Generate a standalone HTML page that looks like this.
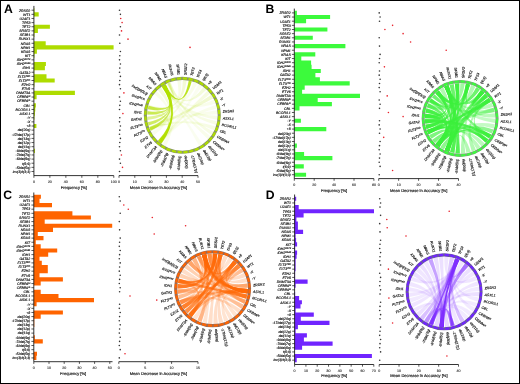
<!DOCTYPE html>
<html><head><meta charset="utf-8"><style>
html,body{margin:0;padding:0;background:#fff;}
svg{display:block;will-change:transform;}
text{font-family:"Liberation Sans",sans-serif;text-rendering:geometricPrecision;}
.ax{stroke:#111;stroke-width:0.85;fill:none;}
.tk{stroke:#111;stroke-width:0.7;fill:none;}
</style></head><body>
<svg width="520" height="384" viewBox="0 0 520 384">
<rect x="0" y="0" width="520" height="384" fill="#fff"/>
<text x="4" y="12.7" font-size="12.2" font-weight="bold" fill="#000">A</text>
<path d="M33.9 8.13h0.5v4.14h-0.5zM33.9 12.27h4.8v4.14h-4.8zM33.9 24.68h16v4.14h-16zM33.9 28.81h4v4.14h-4zM33.9 32.95h0.5v4.14h-0.5zM33.9 41.22h11.8v4.14h-11.8zM33.9 45.36h79.7v4.14h-79.7zM33.9 49.49h3v4.14h-3zM33.9 53.63h0.5v4.14h-0.5zM33.9 61.9h12v4.14h-12zM33.9 66.04h11v4.14h-11zM33.9 70.17h0.3v4.14h-0.3zM33.9 74.31h12.6v4.14h-12.6zM33.9 78.44h20.8v4.14h-20.8zM33.9 82.58h0.5v4.14h-0.5zM33.9 90.85h41v4.14h-41zM33.9 94.99h2.7v4.14h-2.7zM33.9 103.26h2v4.14h-2zM33.9 107.4h1.4v4.14h-1.4zM33.9 111.53h1v4.14h-1zM33.9 115.67h0.5v4.14h-0.5zM33.9 123.94h2.5v4.14h-2.5zM33.9 148.76h1v4.14h-1z" fill="#aedc00"/>
<path d="M33.9 5.9V175.6" class="ax"/>
<text x="30.3" y="11.5" font-size="3.45" font-style="italic" text-anchor="end" stroke="#222" stroke-width="0.17" fill="#1a1a1a">ZRSR2</text>
<text x="30.3" y="15.64" font-size="3.45" font-style="italic" text-anchor="end" stroke="#222" stroke-width="0.17" fill="#1a1a1a">WT1</text>
<text x="30.3" y="19.77" font-size="3.45" font-style="italic" text-anchor="end" stroke="#222" stroke-width="0.17" fill="#1a1a1a">U2AF1</text>
<text x="30.3" y="23.91" font-size="3.45" font-style="italic" text-anchor="end" stroke="#222" stroke-width="0.17" fill="#1a1a1a">TP53</text>
<text x="30.3" y="28.04" font-size="3.45" font-style="italic" text-anchor="end" stroke="#222" stroke-width="0.17" fill="#1a1a1a">TET2</text>
<text x="30.3" y="32.18" font-size="3.45" font-style="italic" text-anchor="end" stroke="#222" stroke-width="0.17" fill="#1a1a1a">SRSF2</text>
<text x="30.3" y="36.32" font-size="3.45" font-style="italic" text-anchor="end" stroke="#222" stroke-width="0.17" fill="#1a1a1a">SF3B1</text>
<text x="30.3" y="40.45" font-size="3.45" font-style="italic" text-anchor="end" stroke="#222" stroke-width="0.17" fill="#1a1a1a">RUNX1</text>
<text x="30.3" y="44.59" font-size="3.45" font-style="italic" text-anchor="end" stroke="#222" stroke-width="0.17" fill="#1a1a1a">NRAS</text>
<text x="30.3" y="48.72" font-size="3.45" font-style="italic" text-anchor="end" stroke="#222" stroke-width="0.17" fill="#1a1a1a">NPM1</text>
<text x="30.3" y="52.86" font-size="3.45" font-style="italic" text-anchor="end" stroke="#222" stroke-width="0.17" fill="#1a1a1a">KRAS</text>
<text x="30.3" y="57" font-size="3.45" font-style="italic" text-anchor="end" stroke="#222" stroke-width="0.17" fill="#1a1a1a">KIT</text>
<text x="30.3" y="61.13" font-size="3.45" font-style="italic" text-anchor="end" stroke="#222" stroke-width="0.17" fill="#1a1a1a">IDH2<tspan font-size="2.42" dy="-1.03">R172</tspan></text>
<text x="30.3" y="65.27" font-size="3.45" font-style="italic" text-anchor="end" stroke="#222" stroke-width="0.17" fill="#1a1a1a">IDH2<tspan font-size="2.42" dy="-1.03">R140</tspan></text>
<text x="30.3" y="69.4" font-size="3.45" font-style="italic" text-anchor="end" stroke="#222" stroke-width="0.17" fill="#1a1a1a">IDH1</text>
<text x="30.3" y="73.54" font-size="3.45" font-style="italic" text-anchor="end" stroke="#222" stroke-width="0.17" fill="#1a1a1a">GATA2</text>
<text x="30.3" y="77.68" font-size="3.45" font-style="italic" text-anchor="end" stroke="#222" stroke-width="0.17" fill="#1a1a1a">FLT3<tspan font-size="2.42" dy="-1.03">TKD</tspan></text>
<text x="30.3" y="81.81" font-size="3.45" font-style="italic" text-anchor="end" stroke="#222" stroke-width="0.17" fill="#1a1a1a">FLT3<tspan font-size="2.42" dy="-1.03">ITD</tspan></text>
<text x="30.3" y="85.95" font-size="3.45" font-style="italic" text-anchor="end" stroke="#222" stroke-width="0.17" fill="#1a1a1a">EZH2</text>
<text x="30.3" y="90.08" font-size="3.45" font-style="italic" text-anchor="end" stroke="#222" stroke-width="0.17" fill="#1a1a1a">ETV6</text>
<text x="30.3" y="94.22" font-size="3.45" font-style="italic" text-anchor="end" stroke="#222" stroke-width="0.17" fill="#1a1a1a">DNMT3A</text>
<text x="30.3" y="98.36" font-size="3.45" font-style="italic" text-anchor="end" stroke="#222" stroke-width="0.17" fill="#1a1a1a">CEBPA<tspan font-size="2.42" dy="-1.03">bi</tspan></text>
<text x="30.3" y="102.49" font-size="3.45" font-style="italic" text-anchor="end" stroke="#222" stroke-width="0.17" fill="#1a1a1a">CEBPA<tspan font-size="2.42" dy="-1.03">m</tspan></text>
<text x="30.3" y="106.63" font-size="3.45" font-style="italic" text-anchor="end" stroke="#222" stroke-width="0.17" fill="#1a1a1a">CBL</text>
<text x="30.3" y="110.76" font-size="3.45" font-style="italic" text-anchor="end" stroke="#222" stroke-width="0.17" fill="#1a1a1a">BCOR/L1</text>
<text x="30.3" y="114.9" font-size="3.45" font-style="italic" text-anchor="end" stroke="#222" stroke-width="0.17" fill="#1a1a1a">ASXL1</text>
<text x="30.3" y="119.04" font-size="3.45" font-style="italic" text-anchor="end" stroke="#222" stroke-width="0.17" fill="#1a1a1a">-Y</text>
<text x="30.3" y="123.17" font-size="3.45" font-style="italic" text-anchor="end" stroke="#222" stroke-width="0.17" fill="#1a1a1a">-X</text>
<text x="30.3" y="127.31" font-size="3.45" font-style="italic" text-anchor="end" stroke="#222" stroke-width="0.17" fill="#1a1a1a">+8</text>
<text x="30.3" y="131.44" font-size="3.45" font-style="italic" text-anchor="end" stroke="#222" stroke-width="0.17" fill="#1a1a1a">del(20q)</text>
<text x="30.3" y="135.58" font-size="3.45" font-style="italic" text-anchor="end" stroke="#222" stroke-width="0.17" fill="#1a1a1a">-17/del(17p)</text>
<text x="30.3" y="139.72" font-size="3.45" font-style="italic" text-anchor="end" stroke="#222" stroke-width="0.17" fill="#1a1a1a">del(13q)</text>
<text x="30.3" y="143.85" font-size="3.45" font-style="italic" text-anchor="end" stroke="#222" stroke-width="0.17" fill="#1a1a1a">del(12p)</text>
<text x="30.3" y="147.99" font-size="3.45" font-style="italic" text-anchor="end" stroke="#222" stroke-width="0.17" fill="#1a1a1a">del(11q)</text>
<text x="30.3" y="152.12" font-size="3.45" font-style="italic" text-anchor="end" stroke="#222" stroke-width="0.17" fill="#1a1a1a">-9/del(9q)</text>
<text x="30.3" y="156.26" font-size="3.45" font-style="italic" text-anchor="end" stroke="#222" stroke-width="0.17" fill="#1a1a1a">-7/del(7q)</text>
<text x="30.3" y="160.4" font-size="3.45" font-style="italic" text-anchor="end" stroke="#222" stroke-width="0.17" fill="#1a1a1a">-6/del(6q)</text>
<text x="30.3" y="164.53" font-size="3.45" font-style="italic" text-anchor="end" stroke="#222" stroke-width="0.17" fill="#1a1a1a">t(6;9)</text>
<text x="30.3" y="168.67" font-size="3.45" font-style="italic" text-anchor="end" stroke="#222" stroke-width="0.17" fill="#1a1a1a">-5/del(5q)</text>
<text x="30.3" y="172.8" font-size="3.45" font-style="italic" text-anchor="end" stroke="#222" stroke-width="0.17" fill="#1a1a1a">inv(3)/t(3;3)</text>
<path d="M31.5 10.2H33.9M31.5 14.34H33.9M31.5 18.47H33.9M31.5 22.61H33.9M31.5 26.74H33.9M31.5 30.88H33.9M31.5 35.02H33.9M31.5 39.15H33.9M31.5 43.29H33.9M31.5 47.42H33.9M31.5 51.56H33.9M31.5 55.7H33.9M31.5 59.83H33.9M31.5 63.97H33.9M31.5 68.1H33.9M31.5 72.24H33.9M31.5 76.38H33.9M31.5 80.51H33.9M31.5 84.65H33.9M31.5 88.78H33.9M31.5 92.92H33.9M31.5 97.06H33.9M31.5 101.19H33.9M31.5 105.33H33.9M31.5 109.46H33.9M31.5 113.6H33.9M31.5 117.74H33.9M31.5 121.87H33.9M31.5 126.01H33.9M31.5 130.14H33.9M31.5 134.28H33.9M31.5 138.42H33.9M31.5 142.55H33.9M31.5 146.69H33.9M31.5 150.82H33.9M31.5 154.96H33.9M31.5 159.1H33.9M31.5 163.23H33.9M31.5 167.37H33.9M31.5 171.5H33.9" class="tk"/>
<path d="M33.9 175.6H113.8" class="ax"/>
<text x="33.9" y="182.7" font-size="3.6" text-anchor="middle" stroke="#222" stroke-width="0.1" fill="#1a1a1a">0</text>
<text x="49.88" y="182.7" font-size="3.6" text-anchor="middle" stroke="#222" stroke-width="0.1" fill="#1a1a1a">20</text>
<text x="65.86" y="182.7" font-size="3.6" text-anchor="middle" stroke="#222" stroke-width="0.1" fill="#1a1a1a">40</text>
<text x="81.84" y="182.7" font-size="3.6" text-anchor="middle" stroke="#222" stroke-width="0.1" fill="#1a1a1a">60</text>
<text x="97.82" y="182.7" font-size="3.6" text-anchor="middle" stroke="#222" stroke-width="0.1" fill="#1a1a1a">80</text>
<text x="113.8" y="182.7" font-size="3.6" text-anchor="middle" stroke="#222" stroke-width="0.1" fill="#1a1a1a">100</text>
<path d="M33.9 175.6V177.8M49.88 175.6V177.8M65.86 175.6V177.8M81.84 175.6V177.8M97.82 175.6V177.8M113.8 175.6V177.8" class="tk"/>
<text x="73.85" y="188.5" font-size="4.05" text-anchor="middle" stroke="#222" stroke-width="0.16" fill="#1a1a1a">Frequency [%]</text>
<path d="M119 175.6H198" class="ax"/>
<text x="119" y="182.7" font-size="3.6" text-anchor="middle" stroke="#222" stroke-width="0.1" fill="#1a1a1a">0</text>
<text x="134.8" y="182.7" font-size="3.6" text-anchor="middle" stroke="#222" stroke-width="0.1" fill="#1a1a1a">10</text>
<text x="150.6" y="182.7" font-size="3.6" text-anchor="middle" stroke="#222" stroke-width="0.1" fill="#1a1a1a">20</text>
<text x="166.4" y="182.7" font-size="3.6" text-anchor="middle" stroke="#222" stroke-width="0.1" fill="#1a1a1a">30</text>
<text x="182.2" y="182.7" font-size="3.6" text-anchor="middle" stroke="#222" stroke-width="0.1" fill="#1a1a1a">40</text>
<text x="198" y="182.7" font-size="3.6" text-anchor="middle" stroke="#222" stroke-width="0.1" fill="#1a1a1a">50</text>
<path d="M119 175.6V177.8M134.8 175.6V177.8M150.6 175.6V177.8M166.4 175.6V177.8M182.2 175.6V177.8M198 175.6V177.8" class="tk"/>
<text x="158.5" y="188.5" font-size="4.05" text-anchor="middle" stroke="#222" stroke-width="0.16" fill="#1a1a1a">Mean Decrease in Accuracy [%]</text>
<g fill="#333"><circle cx="119.5" cy="10.2" r="0.8"/><circle cx="120.4" cy="14.34" r="0.8"/><circle cx="120.4" cy="26.74" r="0.8"/><circle cx="119.5" cy="35.02" r="0.8"/><circle cx="119.8" cy="43.29" r="0.8"/><circle cx="120.4" cy="51.56" r="0.8"/><circle cx="119.8" cy="55.7" r="0.8"/><circle cx="119.5" cy="59.83" r="0.8"/><circle cx="120.4" cy="63.97" r="0.8"/><circle cx="119.8" cy="68.1" r="0.8"/><circle cx="119.5" cy="72.24" r="0.8"/><circle cx="120.4" cy="76.38" r="0.8"/><circle cx="119.8" cy="80.51" r="0.8"/><circle cx="119.5" cy="84.65" r="0.8"/><circle cx="120.4" cy="88.78" r="0.8"/><circle cx="119.5" cy="97.06" r="0.8"/><circle cx="120.4" cy="101.19" r="0.8"/><circle cx="119.8" cy="105.33" r="0.8"/><circle cx="119.5" cy="109.46" r="0.8"/><circle cx="119.8" cy="117.74" r="0.8"/><circle cx="119.5" cy="121.87" r="0.8"/><circle cx="120.4" cy="126.01" r="0.8"/><circle cx="119.8" cy="130.14" r="0.8"/><circle cx="119.5" cy="134.28" r="0.8"/><circle cx="120.4" cy="138.42" r="0.8"/><circle cx="119.8" cy="142.55" r="0.8"/><circle cx="119.5" cy="146.69" r="0.8"/><circle cx="120.4" cy="150.82" r="0.8"/><circle cx="119.5" cy="159.1" r="0.8"/><circle cx="120.4" cy="163.23" r="0.8"/><circle cx="119.5" cy="171.5" r="0.8"/></g>
<g fill="#e8202a"><circle cx="120.7" cy="18.47" r="0.8"/><circle cx="122.1" cy="22.61" r="0.8"/><circle cx="121.5" cy="30.88" r="0.8"/><circle cx="128" cy="39.15" r="0.8"/><circle cx="190" cy="47.42" r="0.8"/><circle cx="123.9" cy="92.92" r="0.8"/><circle cx="122.9" cy="113.6" r="0.8"/><circle cx="121.4" cy="154.96" r="0.8"/><circle cx="122.5" cy="167.37" r="0.8"/></g>
<g><path d="M161.92 86.72A35.1 35.1 0 0 1 165.55 84.45Q182.3 115.3 161.42 143.52A35.1 35.1 0 0 1 158.14 140.76Q182.3 115.3 161.92 86.72Z" fill="#b2e000" fill-opacity="0.95"/><path d="M162.47 86.34A35.1 35.1 0 0 1 164.96 84.78Q182.3 115.3 188.76 80.8A35.1 35.1 0 0 1 191.62 81.46Q182.3 115.3 162.47 86.34Z" fill="#b2e000" fill-opacity="0.85"/><path d="M162.6 86.25A35.1 35.1 0 0 1 165.66 84.4Q182.3 115.3 150.73 130.65A35.1 35.1 0 0 1 149.33 127.35Q182.3 115.3 162.6 86.25Z" fill="#b2e000" fill-opacity="0.62"/><path d="M161.83 86.79A35.1 35.1 0 0 1 164.68 84.94Q182.3 115.3 148.69 125.43A35.1 35.1 0 0 1 147.87 122.13Q182.3 115.3 161.83 86.79Z" fill="#b2e000" fill-opacity="0.58"/><path d="M162.28 86.47A35.1 35.1 0 0 1 165.16 84.67Q182.3 115.3 147.21 114.55A35.1 35.1 0 0 1 147.45 111.16Q182.3 115.3 162.28 86.47Z" fill="#b2e000" fill-opacity="0.58"/><path d="M162.6 86.25A35.1 35.1 0 0 1 165.66 84.4Q182.3 115.3 147.74 109.16A35.1 35.1 0 0 1 148.55 105.67Q182.3 115.3 162.6 86.25Z" fill="#b2e000" fill-opacity="0.62"/><path d="M162.28 86.47A35.1 35.1 0 0 1 164.21 85.22Q182.3 115.3 167.54 83.46A35.1 35.1 0 0 1 169.65 82.56Q182.3 115.3 162.28 86.47Z" fill="#b2e000" fill-opacity="0.3"/><path d="M160.63 142.91A35.1 35.1 0 0 1 158.87 141.44Q182.3 115.3 150.46 130.06A35.1 35.1 0 0 1 149.56 127.95Q182.3 115.3 160.63 142.91Z" fill="#b2e000" fill-opacity="0.25"/><path d="M160.84 143.07A35.1 35.1 0 0 1 157.87 140.51Q182.3 115.3 147.2 114.81A35.1 35.1 0 0 1 147.48 110.9Q182.3 115.3 160.84 143.07Z" fill="#b2e000" fill-opacity="0.16"/><path d="M161.72 143.73A35.1 35.1 0 0 1 158.68 141.26Q182.3 115.3 147.71 109.33A35.1 35.1 0 0 1 148.59 105.51Q182.3 115.3 161.72 143.73Z" fill="#b2e000" fill-opacity="0.16"/><path d="M210.98 95.07A35.1 35.1 0 0 1 213.06 98.39Q182.3 115.3 150.57 130.3A35.1 35.1 0 0 1 149.09 126.67Q182.3 115.3 210.98 95.07Z" fill="#b2e000" fill-opacity="0.18"/><path d="M207.46 90.83A35.1 35.1 0 0 1 210.03 93.79Q182.3 115.3 161.27 143.41A35.1 35.1 0 0 1 158.27 140.89Q182.3 115.3 207.46 90.83Z" fill="#b2e000" fill-opacity="0.12"/><path d="M203.33 87.19A35.1 35.1 0 0 1 206.33 89.71Q182.3 115.3 166.8 83.81A35.1 35.1 0 0 1 170.41 82.28Q182.3 115.3 203.33 87.19Z" fill="#b2e000" fill-opacity="0.14"/><path d="M182.79 80.2A35.1 35.1 0 0 1 186.7 80.48Q182.3 115.3 147.81 108.78A35.1 35.1 0 0 1 148.75 104.98Q182.3 115.3 182.79 80.2Z" fill="#b2e000" fill-opacity="0.16"/><path d="M217.4 115.79A35.1 35.1 0 0 1 217.12 119.7Q182.3 115.3 162.07 86.62A35.1 35.1 0 0 1 165.39 84.54Q182.3 115.3 217.4 115.79Z" fill="#b2e000" fill-opacity="0.1"/><path d="M216.89 121.27A35.1 35.1 0 0 1 216.01 125.09Q182.3 115.3 162.42 86.37A35.1 35.1 0 0 1 165.77 84.34Q182.3 115.3 216.89 121.27Z" fill="#b2e000" fill-opacity="0.1"/><path d="M215.53 126.61A35.1 35.1 0 0 1 214.06 130.24Q182.3 115.3 151 131.18A35.1 35.1 0 0 1 149.42 127.59Q182.3 115.3 215.53 126.61Z" fill="#b2e000" fill-opacity="0.1"/><path d="M213.35 131.67A35.1 35.1 0 0 1 211.33 135.03Q182.3 115.3 167.19 83.62A35.1 35.1 0 0 1 170.81 82.13Q182.3 115.3 213.35 131.67Z" fill="#b2e000" fill-opacity="0.1"/><path d="M210.41 136.33A35.1 35.1 0 0 1 207.89 139.33Q182.3 115.3 161.72 86.87A35.1 35.1 0 0 1 165.02 84.75Q182.3 115.3 210.41 136.33Z" fill="#b2e000" fill-opacity="0.08"/><path d="M202.53 143.98A35.1 35.1 0 0 1 199.21 146.06Q182.3 115.3 162.07 86.62A35.1 35.1 0 0 1 165.39 84.54Q182.3 115.3 202.53 143.98Z" fill="#b2e000" fill-opacity="0.06"/><path d="M157.83 90.14A35.1 35.1 0 0 1 160.79 87.57Q182.3 115.3 160.84 143.07A35.1 35.1 0 0 1 157.87 140.51Q182.3 115.3 157.83 90.14Z" fill="#b2e000" fill-opacity="0.14"/><path d="M188.27 80.71A35.1 35.1 0 0 1 192.09 81.59Q182.3 115.3 150.81 130.8A35.1 35.1 0 0 1 149.28 127.19Q182.3 115.3 188.27 80.71Z" fill="#b2e000" fill-opacity="0.12"/><path d="M215.83 104.92A35.1 35.1 0 0 1 216.78 108.72Q182.3 115.3 161.62 143.66A35.1 35.1 0 0 1 158.59 141.18Q182.3 115.3 215.83 104.92Z" fill="#b2e000" fill-opacity="0.08"/><path d="M213.79 99.8A35.1 35.1 0 0 1 215.32 103.41Q182.3 115.3 162.42 86.37A35.1 35.1 0 0 1 165.77 84.34Q182.3 115.3 213.79 99.8Z" fill="#b2e000" fill-opacity="0.08"/><path d="M217.04 110.29A35.1 35.1 0 0 1 217.38 114.2Q182.3 115.3 148.77 125.68A35.1 35.1 0 0 1 147.82 121.88Q182.3 115.3 217.04 110.29Z" fill="#b2e000" fill-opacity="0.08"/><path d="M165.93 146.35A35.1 35.1 0 0 1 162.57 144.33Q182.3 115.3 161.62 86.94A35.1 35.1 0 0 1 164.91 84.81Q182.3 115.3 165.93 146.35Z" fill="#b2e000" fill-opacity="0.08"/><path d="M193.61 82.07A35.1 35.1 0 0 1 197.24 83.54Q182.3 115.3 147.22 114.26A35.1 35.1 0 0 1 147.55 110.35Q182.3 115.3 193.61 82.07Z" fill="#b2e000" fill-opacity="0.08"/><path d="M198.67 84.25A35.1 35.1 0 0 1 202.03 86.27Q182.3 115.3 161.27 143.41A35.1 35.1 0 0 1 158.27 140.89Q182.3 115.3 198.67 84.25Z" fill="#b2e000" fill-opacity="0.06"/><path d="M177.29 80.56A35.1 35.1 0 0 1 181.2 80.22Q182.3 115.3 162.07 86.62A35.1 35.1 0 0 1 165.39 84.54Q182.3 115.3 177.29 80.56Z" fill="#b2e000" fill-opacity="0.1"/><path d="M154.19 94.27A35.1 35.1 0 0 1 156.71 91.27Q182.3 115.3 160.84 143.07A35.1 35.1 0 0 1 157.87 140.51Q182.3 115.3 154.19 94.27Z" fill="#b2e000" fill-opacity="0.08"/><path d="M147.51 119.96A35.1 35.1 0 0 1 147.23 116.75Q182.3 115.3 162.81 86.11A35.1 35.1 0 0 1 165.57 84.45Q182.3 115.3 147.51 119.96Z" fill="#b2e000" fill-opacity="0.4"/><path d="M153.62 135.53A35.1 35.1 0 0 1 151.54 132.21Q182.3 115.3 161.62 86.94A35.1 35.1 0 0 1 164.91 84.81Q182.3 115.3 153.62 135.53Z" fill="#b2e000" fill-opacity="0.08"/></g>
<circle cx="182.3" cy="115.3" r="36.95" fill="none" stroke="#8a9866" stroke-width="3.1"/>
<path d="M219.25 115.75A36.95 36.95 0 0 1 218.95 120M218.72 121.53A36.95 36.95 0 0 1 217.76 125.67M217.3 127.15A36.95 36.95 0 0 1 215.71 131.09M215.02 132.48A36.95 36.95 0 0 1 212.82 136.12M211.93 137.38A36.95 36.95 0 0 1 209.19 140.64M208.11 141.74A36.95 36.95 0 0 1 204.9 144.54M203.65 145.46A36.95 36.95 0 0 1 200.04 147.71M198.67 148.43A36.95 36.95 0 0 1 194.76 150.09M193.29 150.58A36.95 36.95 0 0 1 189.16 151.61M187.63 151.86A36.95 36.95 0 0 1 183.4 152.23M181.85 152.25A36.95 36.95 0 0 1 177.6 151.95M176.07 151.72A36.95 36.95 0 0 1 171.93 150.76M170.45 150.3A36.95 36.95 0 0 1 166.51 148.71M165.12 148.02A36.95 36.95 0 0 1 161.48 145.82M160.22 144.93A36.95 36.95 0 0 1 156.96 142.19M155.86 141.11A36.95 36.95 0 0 1 153.06 137.9M152.14 136.65A36.95 36.95 0 0 1 149.89 133.04M149.17 131.67A36.95 36.95 0 0 1 147.51 127.76M147.02 126.29A36.95 36.95 0 0 1 145.99 122.16M145.74 120.63A36.95 36.95 0 0 1 145.37 116.4M145.35 114.85A36.95 36.95 0 0 1 145.65 110.6M145.88 109.07A36.95 36.95 0 0 1 146.84 104.93M147.3 103.45A36.95 36.95 0 0 1 148.89 99.51M149.58 98.12A36.95 36.95 0 0 1 151.78 94.48M152.67 93.22A36.95 36.95 0 0 1 155.41 89.96M156.49 88.86A36.95 36.95 0 0 1 159.7 86.06M160.95 85.14A36.95 36.95 0 0 1 164.56 82.89M165.93 82.17A36.95 36.95 0 0 1 169.84 80.51M171.31 80.02A36.95 36.95 0 0 1 175.44 78.99M176.97 78.74A36.95 36.95 0 0 1 181.2 78.37M182.75 78.35A36.95 36.95 0 0 1 187 78.65M188.53 78.88A36.95 36.95 0 0 1 192.67 79.84M194.15 80.3A36.95 36.95 0 0 1 198.09 81.89M199.48 82.58A36.95 36.95 0 0 1 203.12 84.78M204.38 85.67A36.95 36.95 0 0 1 207.64 88.41M208.74 89.49A36.95 36.95 0 0 1 211.54 92.7M212.46 93.95A36.95 36.95 0 0 1 214.71 97.56M215.43 98.93A36.95 36.95 0 0 1 217.09 102.84M217.58 104.31A36.95 36.95 0 0 1 218.61 108.44M218.86 109.97A36.95 36.95 0 0 1 219.23 114.2" fill="none" stroke="#aedc00" stroke-width="2.17"/>
<g><text transform="translate(222.71 119.38) rotate(4)" font-size="3.5" font-style="italic" stroke="#222" stroke-width="0.16" fill="#1a1a1a">ASXL1</text><text transform="translate(221.58 125.65) rotate(13)" font-size="3.5" font-style="italic" stroke="#222" stroke-width="0.16" fill="#1a1a1a">BCOR/L1</text><text transform="translate(219.48 131.67) rotate(22)" font-size="3.5" font-style="italic" stroke="#222" stroke-width="0.16" fill="#1a1a1a">CBL</text><text transform="translate(216.46 137.28) rotate(31)" font-size="3.5" font-style="italic" stroke="#222" stroke-width="0.16" fill="#1a1a1a">CEBPA<tspan font-size="2.45" dy="-1.05">bi</tspan></text><text transform="translate(212.6 142.35) rotate(40)" font-size="3.5" font-style="italic" stroke="#222" stroke-width="0.16" fill="#1a1a1a">CEBPA<tspan font-size="2.45" dy="-1.05">m</tspan></text><text transform="translate(207.99 146.76) rotate(49)" font-size="3.5" font-style="italic" stroke="#222" stroke-width="0.16" fill="#1a1a1a">del(11q)</text><text transform="translate(202.75 150.39) rotate(58)" font-size="3.5" font-style="italic" stroke="#222" stroke-width="0.16" fill="#1a1a1a">del(12p)</text><text transform="translate(197.01 153.16) rotate(67)" font-size="3.5" font-style="italic" stroke="#222" stroke-width="0.16" fill="#1a1a1a">del(13q)</text><text transform="translate(190.91 155) rotate(76)" font-size="3.5" font-style="italic" stroke="#222" stroke-width="0.16" fill="#1a1a1a">-17/del(17p)</text><text transform="translate(184.59 155.85) rotate(85)" font-size="3.5" font-style="italic" stroke="#222" stroke-width="0.16" fill="#1a1a1a">del(20q)</text><text transform="translate(180.71 155.89) rotate(274)" font-size="3.5" font-style="italic" text-anchor="end" stroke="#222" stroke-width="0.16" fill="#1a1a1a">-5/del(5q)</text><text transform="translate(174.38 155.14) rotate(283)" font-size="3.5" font-style="italic" text-anchor="end" stroke="#222" stroke-width="0.16" fill="#1a1a1a">-6/del(6q)</text><text transform="translate(168.25 153.41) rotate(292)" font-size="3.5" font-style="italic" text-anchor="end" stroke="#222" stroke-width="0.16" fill="#1a1a1a">-7/del(7q)</text><text transform="translate(162.46 150.74) rotate(301)" font-size="3.5" font-style="italic" text-anchor="end" stroke="#222" stroke-width="0.16" fill="#1a1a1a">-9/del(9q)</text><text transform="translate(157.16 147.2) rotate(310)" font-size="3.5" font-style="italic" text-anchor="end" stroke="#222" stroke-width="0.16" fill="#1a1a1a">DNMT3A</text><text transform="translate(152.48 142.88) rotate(319)" font-size="3.5" font-style="italic" text-anchor="end" stroke="#222" stroke-width="0.16" fill="#1a1a1a">ETV6</text><text transform="translate(148.53 137.87) rotate(328)" font-size="3.5" font-style="italic" text-anchor="end" stroke="#222" stroke-width="0.16" fill="#1a1a1a">EZH2</text><text transform="translate(145.42 132.31) rotate(337)" font-size="3.5" font-style="italic" text-anchor="end" stroke="#222" stroke-width="0.16" fill="#1a1a1a">FLT3<tspan font-size="2.45" dy="-1.05">ITD</tspan></text><text transform="translate(143.21 126.33) rotate(346)" font-size="3.5" font-style="italic" text-anchor="end" stroke="#222" stroke-width="0.16" fill="#1a1a1a">FLT3<tspan font-size="2.45" dy="-1.05">TKD</tspan></text><text transform="translate(141.96 120.08) rotate(355)" font-size="3.5" font-style="italic" text-anchor="end" stroke="#222" stroke-width="0.16" fill="#1a1a1a">GATA2</text><text transform="translate(141.71 113.71) rotate(364)" font-size="3.5" font-style="italic" text-anchor="end" stroke="#222" stroke-width="0.16" fill="#1a1a1a">IDH1</text><text transform="translate(142.46 107.38) rotate(373)" font-size="3.5" font-style="italic" text-anchor="end" stroke="#222" stroke-width="0.16" fill="#1a1a1a">IDH2<tspan font-size="2.45" dy="-1.05">R140</tspan></text><text transform="translate(144.19 101.25) rotate(382)" font-size="3.5" font-style="italic" text-anchor="end" stroke="#222" stroke-width="0.16" fill="#1a1a1a">IDH2<tspan font-size="2.45" dy="-1.05">R172</tspan></text><text transform="translate(146.86 95.46) rotate(391)" font-size="3.5" font-style="italic" text-anchor="end" stroke="#222" stroke-width="0.16" fill="#1a1a1a">inv(3)/t(3;3)</text><text transform="translate(150.4 90.16) rotate(400)" font-size="3.5" font-style="italic" text-anchor="end" stroke="#222" stroke-width="0.16" fill="#1a1a1a">KIT</text><text transform="translate(154.72 85.48) rotate(409)" font-size="3.5" font-style="italic" text-anchor="end" stroke="#222" stroke-width="0.16" fill="#1a1a1a">KRAS</text><text transform="translate(159.73 81.53) rotate(418)" font-size="3.5" font-style="italic" text-anchor="end" stroke="#222" stroke-width="0.16" fill="#1a1a1a">NPM1</text><text transform="translate(165.29 78.42) rotate(427)" font-size="3.5" font-style="italic" text-anchor="end" stroke="#222" stroke-width="0.16" fill="#1a1a1a">NRAS</text><text transform="translate(171.27 76.21) rotate(436)" font-size="3.5" font-style="italic" text-anchor="end" stroke="#222" stroke-width="0.16" fill="#1a1a1a">RUNX1</text><text transform="translate(177.52 74.96) rotate(445)" font-size="3.5" font-style="italic" text-anchor="end" stroke="#222" stroke-width="0.16" fill="#1a1a1a">SF3B1</text><text transform="translate(186.38 74.89) rotate(274)" font-size="3.5" font-style="italic" stroke="#222" stroke-width="0.16" fill="#1a1a1a">SRSF2</text><text transform="translate(192.65 76.02) rotate(283)" font-size="3.5" font-style="italic" stroke="#222" stroke-width="0.16" fill="#1a1a1a">TET2</text><text transform="translate(198.67 78.12) rotate(292)" font-size="3.5" font-style="italic" stroke="#222" stroke-width="0.16" fill="#1a1a1a">TP53</text><text transform="translate(204.28 81.14) rotate(301)" font-size="3.5" font-style="italic" stroke="#222" stroke-width="0.16" fill="#1a1a1a">t(6;9)</text><text transform="translate(209.35 85) rotate(310)" font-size="3.5" font-style="italic" stroke="#222" stroke-width="0.16" fill="#1a1a1a">+8</text><text transform="translate(213.76 89.61) rotate(319)" font-size="3.5" font-style="italic" stroke="#222" stroke-width="0.16" fill="#1a1a1a">U2AF1</text><text transform="translate(217.39 94.85) rotate(328)" font-size="3.5" font-style="italic" stroke="#222" stroke-width="0.16" fill="#1a1a1a">WT1</text><text transform="translate(220.16 100.59) rotate(337)" font-size="3.5" font-style="italic" stroke="#222" stroke-width="0.16" fill="#1a1a1a">-X</text><text transform="translate(222 106.69) rotate(346)" font-size="3.5" font-style="italic" stroke="#222" stroke-width="0.16" fill="#1a1a1a">-Y</text><text transform="translate(222.85 113.01) rotate(355)" font-size="3.5" font-style="italic" stroke="#222" stroke-width="0.16" fill="#1a1a1a">ZRSR2</text></g>
<text x="265.4" y="12.5" font-size="12.2" font-weight="bold" fill="#000">B</text>
<path d="M294.3 10.83h2.6v4.15h-2.6zM294.3 14.97h35.8v4.15h-35.8zM294.3 19.12h11.8v4.15h-11.8zM294.3 27.42h33.1v4.15h-33.1zM294.3 35.72h18.5v4.15h-18.5zM294.3 44.02h51.1v4.15h-51.1zM294.3 52.32h21v4.15h-21zM294.3 56.46h7v4.15h-7zM294.3 60.61h16.8v4.15h-16.8zM294.3 64.76h17.3v4.15h-17.3zM294.3 68.91h26.5v4.15h-26.5zM294.3 73.06h21.1v4.15h-21.1zM294.3 77.21h25.6v4.15h-25.6zM294.3 81.36h55.4v4.15h-55.4zM294.3 85.51h10.4v4.15h-10.4zM294.3 89.66h7.8v4.15h-7.8zM294.3 93.81h65.7v4.15h-65.7zM294.3 97.95h23.4v4.15h-23.4zM294.3 102.1h37.6v4.15h-37.6zM294.3 106.25h5.2v4.15h-5.2zM294.3 118.7h6.6v4.15h-6.6zM294.3 127h32v4.15h-32zM294.3 135.3h0.5v4.15h-0.5zM294.3 143.59h2.6v4.15h-2.6zM294.3 147.74h1v4.15h-1zM294.3 151.89h9.8v4.15h-9.8zM294.3 156.04h38.1v4.15h-38.1zM294.3 160.19h0.5v4.15h-0.5zM294.3 164.34h9.5v4.15h-9.5zM294.3 168.49h0.5v4.15h-0.5zM294.3 172.64h11.8v4.15h-11.8z" fill="#3cfa3c"/>
<path d="M294.3 8.6V178.6" class="ax"/>
<text x="290.7" y="14.2" font-size="3.45" font-style="italic" text-anchor="end" stroke="#222" stroke-width="0.17" fill="#1a1a1a">ZRSR2</text>
<text x="290.7" y="18.35" font-size="3.45" font-style="italic" text-anchor="end" stroke="#222" stroke-width="0.17" fill="#1a1a1a">WT1</text>
<text x="290.7" y="22.5" font-size="3.45" font-style="italic" text-anchor="end" stroke="#222" stroke-width="0.17" fill="#1a1a1a">U2AF1</text>
<text x="290.7" y="26.65" font-size="3.45" font-style="italic" text-anchor="end" stroke="#222" stroke-width="0.17" fill="#1a1a1a">TP53</text>
<text x="290.7" y="30.8" font-size="3.45" font-style="italic" text-anchor="end" stroke="#222" stroke-width="0.17" fill="#1a1a1a">TET2</text>
<text x="290.7" y="34.95" font-size="3.45" font-style="italic" text-anchor="end" stroke="#222" stroke-width="0.17" fill="#1a1a1a">SRSF2</text>
<text x="290.7" y="39.09" font-size="3.45" font-style="italic" text-anchor="end" stroke="#222" stroke-width="0.17" fill="#1a1a1a">SF3B1</text>
<text x="290.7" y="43.24" font-size="3.45" font-style="italic" text-anchor="end" stroke="#222" stroke-width="0.17" fill="#1a1a1a">RUNX1</text>
<text x="290.7" y="47.39" font-size="3.45" font-style="italic" text-anchor="end" stroke="#222" stroke-width="0.17" fill="#1a1a1a">NRAS</text>
<text x="290.7" y="51.54" font-size="3.45" font-style="italic" text-anchor="end" stroke="#222" stroke-width="0.17" fill="#1a1a1a">NPM1</text>
<text x="290.7" y="55.69" font-size="3.45" font-style="italic" text-anchor="end" stroke="#222" stroke-width="0.17" fill="#1a1a1a">KRAS</text>
<text x="290.7" y="59.84" font-size="3.45" font-style="italic" text-anchor="end" stroke="#222" stroke-width="0.17" fill="#1a1a1a">KIT</text>
<text x="290.7" y="63.99" font-size="3.45" font-style="italic" text-anchor="end" stroke="#222" stroke-width="0.17" fill="#1a1a1a">IDH2<tspan font-size="2.42" dy="-1.03">R172</tspan></text>
<text x="290.7" y="68.14" font-size="3.45" font-style="italic" text-anchor="end" stroke="#222" stroke-width="0.17" fill="#1a1a1a">IDH2<tspan font-size="2.42" dy="-1.03">R140</tspan></text>
<text x="290.7" y="72.29" font-size="3.45" font-style="italic" text-anchor="end" stroke="#222" stroke-width="0.17" fill="#1a1a1a">IDH1</text>
<text x="290.7" y="76.44" font-size="3.45" font-style="italic" text-anchor="end" stroke="#222" stroke-width="0.17" fill="#1a1a1a">GATA2</text>
<text x="290.7" y="80.58" font-size="3.45" font-style="italic" text-anchor="end" stroke="#222" stroke-width="0.17" fill="#1a1a1a">FLT3<tspan font-size="2.42" dy="-1.03">TKD</tspan></text>
<text x="290.7" y="84.73" font-size="3.45" font-style="italic" text-anchor="end" stroke="#222" stroke-width="0.17" fill="#1a1a1a">FLT3<tspan font-size="2.42" dy="-1.03">ITD</tspan></text>
<text x="290.7" y="88.88" font-size="3.45" font-style="italic" text-anchor="end" stroke="#222" stroke-width="0.17" fill="#1a1a1a">EZH2</text>
<text x="290.7" y="93.03" font-size="3.45" font-style="italic" text-anchor="end" stroke="#222" stroke-width="0.17" fill="#1a1a1a">ETV6</text>
<text x="290.7" y="97.18" font-size="3.45" font-style="italic" text-anchor="end" stroke="#222" stroke-width="0.17" fill="#1a1a1a">DNMT3A</text>
<text x="290.7" y="101.33" font-size="3.45" font-style="italic" text-anchor="end" stroke="#222" stroke-width="0.17" fill="#1a1a1a">CEBPA<tspan font-size="2.42" dy="-1.03">bi</tspan></text>
<text x="290.7" y="105.48" font-size="3.45" font-style="italic" text-anchor="end" stroke="#222" stroke-width="0.17" fill="#1a1a1a">CEBPA<tspan font-size="2.42" dy="-1.03">m</tspan></text>
<text x="290.7" y="109.63" font-size="3.45" font-style="italic" text-anchor="end" stroke="#222" stroke-width="0.17" fill="#1a1a1a">CBL</text>
<text x="290.7" y="113.78" font-size="3.45" font-style="italic" text-anchor="end" stroke="#222" stroke-width="0.17" fill="#1a1a1a">BCOR/L1</text>
<text x="290.7" y="117.92" font-size="3.45" font-style="italic" text-anchor="end" stroke="#222" stroke-width="0.17" fill="#1a1a1a">ASXL1</text>
<text x="290.7" y="122.07" font-size="3.45" font-style="italic" text-anchor="end" stroke="#222" stroke-width="0.17" fill="#1a1a1a">-Y</text>
<text x="290.7" y="126.22" font-size="3.45" font-style="italic" text-anchor="end" stroke="#222" stroke-width="0.17" fill="#1a1a1a">-X</text>
<text x="290.7" y="130.37" font-size="3.45" font-style="italic" text-anchor="end" stroke="#222" stroke-width="0.17" fill="#1a1a1a">+8</text>
<text x="290.7" y="134.52" font-size="3.45" font-style="italic" text-anchor="end" stroke="#222" stroke-width="0.17" fill="#1a1a1a">del(20q)</text>
<text x="290.7" y="138.67" font-size="3.45" font-style="italic" text-anchor="end" stroke="#222" stroke-width="0.17" fill="#1a1a1a">-17/del(17p)</text>
<text x="290.7" y="142.82" font-size="3.45" font-style="italic" text-anchor="end" stroke="#222" stroke-width="0.17" fill="#1a1a1a">del(13q)</text>
<text x="290.7" y="146.97" font-size="3.45" font-style="italic" text-anchor="end" stroke="#222" stroke-width="0.17" fill="#1a1a1a">del(12p)</text>
<text x="290.7" y="151.12" font-size="3.45" font-style="italic" text-anchor="end" stroke="#222" stroke-width="0.17" fill="#1a1a1a">del(11q)</text>
<text x="290.7" y="155.27" font-size="3.45" font-style="italic" text-anchor="end" stroke="#222" stroke-width="0.17" fill="#1a1a1a">-9/del(9q)</text>
<text x="290.7" y="159.42" font-size="3.45" font-style="italic" text-anchor="end" stroke="#222" stroke-width="0.17" fill="#1a1a1a">-7/del(7q)</text>
<text x="290.7" y="163.56" font-size="3.45" font-style="italic" text-anchor="end" stroke="#222" stroke-width="0.17" fill="#1a1a1a">-6/del(6q)</text>
<text x="290.7" y="167.71" font-size="3.45" font-style="italic" text-anchor="end" stroke="#222" stroke-width="0.17" fill="#1a1a1a">t(6;9)</text>
<text x="290.7" y="171.86" font-size="3.45" font-style="italic" text-anchor="end" stroke="#222" stroke-width="0.17" fill="#1a1a1a">-5/del(5q)</text>
<text x="290.7" y="176.01" font-size="3.45" font-style="italic" text-anchor="end" stroke="#222" stroke-width="0.17" fill="#1a1a1a">inv(3)/t(3;3)</text>
<path d="M291.9 12.9H294.3M291.9 17.05H294.3M291.9 21.2H294.3M291.9 25.35H294.3M291.9 29.5H294.3M291.9 33.65H294.3M291.9 37.79H294.3M291.9 41.94H294.3M291.9 46.09H294.3M291.9 50.24H294.3M291.9 54.39H294.3M291.9 58.54H294.3M291.9 62.69H294.3M291.9 66.84H294.3M291.9 70.99H294.3M291.9 75.14H294.3M291.9 79.28H294.3M291.9 83.43H294.3M291.9 87.58H294.3M291.9 91.73H294.3M291.9 95.88H294.3M291.9 100.03H294.3M291.9 104.18H294.3M291.9 108.33H294.3M291.9 112.48H294.3M291.9 116.62H294.3M291.9 120.77H294.3M291.9 124.92H294.3M291.9 129.07H294.3M291.9 133.22H294.3M291.9 137.37H294.3M291.9 141.52H294.3M291.9 145.67H294.3M291.9 149.82H294.3M291.9 153.97H294.3M291.9 158.12H294.3M291.9 162.26H294.3M291.9 166.41H294.3M291.9 170.56H294.3M291.9 174.71H294.3" class="tk"/>
<path d="M294.3 178.6H373.9" class="ax"/>
<text x="294.3" y="185.7" font-size="3.6" text-anchor="middle" stroke="#222" stroke-width="0.1" fill="#1a1a1a">0</text>
<text x="314.2" y="185.7" font-size="3.6" text-anchor="middle" stroke="#222" stroke-width="0.1" fill="#1a1a1a">20</text>
<text x="334.1" y="185.7" font-size="3.6" text-anchor="middle" stroke="#222" stroke-width="0.1" fill="#1a1a1a">40</text>
<text x="354" y="185.7" font-size="3.6" text-anchor="middle" stroke="#222" stroke-width="0.1" fill="#1a1a1a">60</text>
<text x="373.9" y="185.7" font-size="3.6" text-anchor="middle" stroke="#222" stroke-width="0.1" fill="#1a1a1a">80</text>
<path d="M294.3 178.6V180.8M314.2 178.6V180.8M334.1 178.6V180.8M354 178.6V180.8M373.9 178.6V180.8" class="tk"/>
<text x="334.1" y="191.5" font-size="4.05" text-anchor="middle" stroke="#222" stroke-width="0.16" fill="#1a1a1a">Frequency [%]</text>
<path d="M378.7 178.6H458.5" class="ax"/>
<text x="378.7" y="185.7" font-size="3.6" text-anchor="middle" stroke="#222" stroke-width="0.1" fill="#1a1a1a">0</text>
<text x="398.65" y="185.7" font-size="3.6" text-anchor="middle" stroke="#222" stroke-width="0.1" fill="#1a1a1a">10</text>
<text x="418.6" y="185.7" font-size="3.6" text-anchor="middle" stroke="#222" stroke-width="0.1" fill="#1a1a1a">20</text>
<text x="438.55" y="185.7" font-size="3.6" text-anchor="middle" stroke="#222" stroke-width="0.1" fill="#1a1a1a">30</text>
<text x="458.5" y="185.7" font-size="3.6" text-anchor="middle" stroke="#222" stroke-width="0.1" fill="#1a1a1a">40</text>
<path d="M378.7 178.6V180.8M398.65 178.6V180.8M418.6 178.6V180.8M438.55 178.6V180.8M458.5 178.6V180.8" class="tk"/>
<text x="418.6" y="191.5" font-size="4.05" text-anchor="middle" stroke="#222" stroke-width="0.16" fill="#1a1a1a">Mean Decrease in Accuracy [%]</text>
<g fill="#333"><circle cx="379.2" cy="12.9" r="0.8"/><circle cx="380.1" cy="17.05" r="0.8"/><circle cx="379.5" cy="21.2" r="0.8"/><circle cx="379.2" cy="37.79" r="0.8"/><circle cx="379.5" cy="46.09" r="0.8"/><circle cx="380.1" cy="54.39" r="0.8"/><circle cx="379.5" cy="58.54" r="0.8"/><circle cx="379.2" cy="62.69" r="0.8"/><circle cx="379.5" cy="70.99" r="0.8"/><circle cx="379.2" cy="75.14" r="0.8"/><circle cx="380.1" cy="79.28" r="0.8"/><circle cx="379.5" cy="83.43" r="0.8"/><circle cx="379.2" cy="87.58" r="0.8"/><circle cx="380.1" cy="91.73" r="0.8"/><circle cx="379.2" cy="100.03" r="0.8"/><circle cx="380.1" cy="104.18" r="0.8"/><circle cx="379.5" cy="108.33" r="0.8"/><circle cx="379.5" cy="120.77" r="0.8"/><circle cx="379.2" cy="124.92" r="0.8"/><circle cx="380.1" cy="129.07" r="0.8"/><circle cx="379.5" cy="133.22" r="0.8"/><circle cx="380.1" cy="141.52" r="0.8"/><circle cx="379.5" cy="145.67" r="0.8"/><circle cx="379.2" cy="149.82" r="0.8"/><circle cx="380.1" cy="153.97" r="0.8"/><circle cx="379.5" cy="158.12" r="0.8"/><circle cx="379.2" cy="162.26" r="0.8"/><circle cx="380.1" cy="166.41" r="0.8"/><circle cx="379.2" cy="174.71" r="0.8"/></g>
<g fill="#e8202a"><circle cx="392.6" cy="25.35" r="0.8"/><circle cx="384.9" cy="29.5" r="0.8"/><circle cx="403.1" cy="33.65" r="0.8"/><circle cx="410.6" cy="41.94" r="0.8"/><circle cx="446.2" cy="50.24" r="0.8"/><circle cx="384.4" cy="66.84" r="0.8"/><circle cx="387.2" cy="95.88" r="0.8"/><circle cx="388.4" cy="112.48" r="0.8"/><circle cx="403.1" cy="116.62" r="0.8"/><circle cx="383.7" cy="137.37" r="0.8"/><circle cx="392.6" cy="170.56" r="0.8"/></g>
<g><path d="M439.27 146.65A35.1 35.1 0 0 1 435.89 143.82Q460.1 118.4 428.72 134.12A35.1 35.1 0 0 1 426.99 130.06Q460.1 118.4 439.27 146.65Z" fill="#3cf03c" fill-opacity="0.85"/><path d="M439.27 146.65A35.1 35.1 0 0 1 435.89 143.82Q460.1 118.4 444.38 87.02A35.1 35.1 0 0 1 448.44 85.29Q460.1 118.4 439.27 146.65Z" fill="#3cf03c" fill-opacity="0.84"/><path d="M439.22 146.62A35.1 35.1 0 0 1 435.85 143.78Q460.1 118.4 425 118.15A35.1 35.1 0 0 1 425.31 113.76Q460.1 118.4 439.22 146.62Z" fill="#3cf03c" fill-opacity="0.84"/><path d="M439.32 146.69A35.1 35.1 0 0 1 436.21 144.11Q460.1 118.4 425.5 112.49A35.1 35.1 0 0 1 426.41 108.55Q460.1 118.4 439.32 146.69Z" fill="#3cf03c" fill-opacity="0.75"/><path d="M439.12 146.54A35.1 35.1 0 0 1 436.03 143.94Q460.1 118.4 466.01 83.8A35.1 35.1 0 0 1 469.95 84.71Q460.1 118.4 439.12 146.54Z" fill="#3cf03c" fill-opacity="0.75"/><path d="M438.64 146.17A35.1 35.1 0 0 1 435.85 143.78Q460.1 118.4 488.85 98.27A35.1 35.1 0 0 1 490.8 101.38Q460.1 118.4 438.64 146.17Z" fill="#3cf03c" fill-opacity="0.66"/><path d="M439.32 146.69A35.1 35.1 0 0 1 436.48 144.36Q460.1 118.4 488.13 139.52A35.1 35.1 0 0 1 485.77 142.34Q460.1 118.4 439.32 146.69Z" fill="#3cf03c" fill-opacity="0.57"/><path d="M438.98 146.43A35.1 35.1 0 0 1 436.16 144.07Q460.1 118.4 481.22 90.37A35.1 35.1 0 0 1 484.04 92.73Q460.1 118.4 438.98 146.43Z" fill="#3cf03c" fill-opacity="0.66"/><path d="M428.72 134.12A35.1 35.1 0 0 1 426.99 130.06Q460.1 118.4 488.64 97.97A35.1 35.1 0 0 1 490.98 101.71Q460.1 118.4 428.72 134.12Z" fill="#3cf03c" fill-opacity="0.84"/><path d="M428.37 133.4A35.1 35.1 0 0 1 426.97 130Q460.1 118.4 488.13 139.52A35.1 35.1 0 0 1 485.77 142.34Q460.1 118.4 428.37 133.4Z" fill="#3cf03c" fill-opacity="0.66"/><path d="M428.74 134.17A35.1 35.1 0 0 1 427.27 130.81Q460.1 118.4 425.34 123.28A35.1 35.1 0 0 1 425.02 119.62Q460.1 118.4 428.74 134.17Z" fill="#3cf03c" fill-opacity="0.57"/><path d="M428.55 133.79A35.1 35.1 0 0 1 427.12 130.4Q460.1 118.4 444.71 86.85A35.1 35.1 0 0 1 448.1 85.42Q460.1 118.4 428.55 133.79Z" fill="#3cf03c" fill-opacity="0.66"/><path d="M444.44 86.99A35.1 35.1 0 0 1 448.5 85.27Q460.1 118.4 449.02 151.71A35.1 35.1 0 0 1 444.93 150.05Q460.1 118.4 444.44 86.99Z" fill="#3cf03c" fill-opacity="0.75"/><path d="M444.33 87.04A35.1 35.1 0 0 1 447.69 85.57Q460.1 118.4 481.22 90.37A35.1 35.1 0 0 1 484.04 92.73Q460.1 118.4 444.33 87.04Z" fill="#3cf03c" fill-opacity="0.66"/><path d="M444.38 87.02A35.1 35.1 0 0 1 448.44 85.29Q460.1 118.4 459.85 153.5A35.1 35.1 0 0 1 455.46 153.19Q460.1 118.4 444.38 87.02Z" fill="#3cf03c" fill-opacity="0.8"/><path d="M445.1 86.67A35.1 35.1 0 0 1 448.5 85.27Q460.1 118.4 425.34 123.28A35.1 35.1 0 0 1 425.02 119.62Q460.1 118.4 445.1 86.67Z" fill="#3cf03c" fill-opacity="0.66"/><path d="M444.33 87.04A35.1 35.1 0 0 1 447.69 85.57Q460.1 118.4 491.09 134.88A35.1 35.1 0 0 1 489.2 138.03Q460.1 118.4 444.33 87.04Z" fill="#3cf03c" fill-opacity="0.57"/><path d="M444.71 86.85A35.1 35.1 0 0 1 448.1 85.42Q460.1 118.4 429.11 101.92A35.1 35.1 0 0 1 431 98.77Q460.1 118.4 444.71 86.85Z" fill="#3cf03c" fill-opacity="0.66"/><path d="M466.2 83.83A35.1 35.1 0 0 1 469.77 84.66Q460.1 118.4 481.56 90.63A35.1 35.1 0 0 1 484.35 93.02Q460.1 118.4 466.2 83.83Z" fill="#3cf03c" fill-opacity="0.75"/><path d="M466.62 83.91A35.1 35.1 0 0 1 470.19 84.78Q460.1 118.4 426.53 128.66A35.1 35.1 0 0 1 425.64 125.1Q460.1 118.4 466.62 83.91Z" fill="#3cf03c" fill-opacity="0.66"/><path d="M465.77 83.76A35.1 35.1 0 0 1 469.36 84.54Q460.1 118.4 435.72 93.15A35.1 35.1 0 0 1 438.49 90.74Q460.1 118.4 465.77 83.76Z" fill="#3cf03c" fill-opacity="0.66"/><path d="M466.2 83.83A35.1 35.1 0 0 1 469.77 84.66Q460.1 118.4 448.67 151.59A35.1 35.1 0 0 1 445.27 150.21Q460.1 118.4 466.2 83.83Z" fill="#3cf03c" fill-opacity="0.57"/><path d="M489.1 98.62A35.1 35.1 0 0 1 491 101.76Q460.1 118.4 487.87 139.86A35.1 35.1 0 0 1 485.48 142.65Q460.1 118.4 489.1 98.62Z" fill="#3cf03c" fill-opacity="0.48"/><path d="M488.6 97.92A35.1 35.1 0 0 1 490.59 101.01Q460.1 118.4 448.27 151.45A35.1 35.1 0 0 1 444.88 150.03Q460.1 118.4 488.6 97.92Z" fill="#3cf03c" fill-opacity="0.66"/><path d="M485.09 93.75A35.1 35.1 0 0 1 487.98 97.08Q460.1 118.4 480.88 90.11A35.1 35.1 0 0 1 484.26 92.94Q460.1 118.4 485.09 93.75Z" fill="#3cf03c" fill-opacity="0.75"/><path d="M485.09 93.75A35.1 35.1 0 0 1 487.98 97.08Q460.1 118.4 449.08 151.72A35.1 35.1 0 0 1 444.99 150.08Q460.1 118.4 485.09 93.75Z" fill="#3cf03c" fill-opacity="0.75"/><path d="M454.85 83.69A35.1 35.1 0 0 1 459.24 83.31Q460.1 118.4 439.22 146.62A35.1 35.1 0 0 1 435.85 143.78Q460.1 118.4 454.85 83.69Z" fill="#3cf03c" fill-opacity="0.84"/><path d="M454.85 83.69A35.1 35.1 0 0 1 459.24 83.31Q460.1 118.4 454.37 153.03A35.1 35.1 0 0 1 450.07 152.04Q460.1 118.4 454.85 83.69Z" fill="#3cf03c" fill-opacity="0.8"/><path d="M435.45 93.41A35.1 35.1 0 0 1 438.78 90.52Q460.1 118.4 449.02 151.71A35.1 35.1 0 0 1 444.93 150.05Q460.1 118.4 435.45 93.41Z" fill="#3cf03c" fill-opacity="0.75"/><path d="M435.5 93.36A35.1 35.1 0 0 1 438.83 90.48Q460.1 118.4 425 118.15A35.1 35.1 0 0 1 425.31 113.76Q460.1 118.4 435.5 93.36Z" fill="#3cf03c" fill-opacity="0.75"/><path d="M425 118.09A35.1 35.1 0 0 1 425.32 113.7Q460.1 118.4 426.64 129.01A35.1 35.1 0 0 1 425.58 124.74Q460.1 118.4 425 118.09Z" fill="#3cf03c" fill-opacity="0.75"/><path d="M426.79 107.32A35.1 35.1 0 0 1 428.45 103.23Q460.1 118.4 439.32 146.69A35.1 35.1 0 0 1 435.94 143.86Q460.1 118.4 426.79 107.32Z" fill="#3cf03c" fill-opacity="0.75"/><path d="M425.47 112.67A35.1 35.1 0 0 1 426.46 108.37Q460.1 118.4 426.62 128.95A35.1 35.1 0 0 1 425.57 124.68Q460.1 118.4 425.47 112.67Z" fill="#3cf03c" fill-opacity="0.75"/><path d="M425.39 123.59A35.1 35.1 0 0 1 425.01 119.2Q460.1 118.4 491.26 134.55A35.1 35.1 0 0 1 488.99 138.33Q460.1 118.4 425.39 123.59Z" fill="#3cf03c" fill-opacity="0.84"/><path d="M490.89 135.26A35.1 35.1 0 0 1 488.96 138.38Q460.1 118.4 488.39 139.18A35.1 35.1 0 0 1 486.06 142.02Q460.1 118.4 490.89 135.26Z" fill="#3cf03c" fill-opacity="0.39"/><path d="M431.56 138.83A35.1 35.1 0 0 1 429.22 135.09Q460.1 118.4 448.96 151.69A35.1 35.1 0 0 1 444.88 150.03Q460.1 118.4 431.56 138.83Z" fill="#3cf03c" fill-opacity="0.66"/><path d="M435.11 143.05A35.1 35.1 0 0 1 432.22 139.72Q460.1 118.4 449.08 151.72A35.1 35.1 0 0 1 444.99 150.08Q460.1 118.4 435.11 143.05Z" fill="#3cf03c" fill-opacity="0.66"/><path d="M481.22 90.37A35.1 35.1 0 0 1 484.04 92.73Q460.1 118.4 448.67 151.59A35.1 35.1 0 0 1 445.27 150.21Q460.1 118.4 481.22 90.37Z" fill="#3cf03c" fill-opacity="0.48"/><path d="M476.25 87.24A35.1 35.1 0 0 1 480.03 89.51Q460.1 118.4 435.41 93.45A35.1 35.1 0 0 1 438.73 90.55Q460.1 118.4 476.25 87.24Z" fill="#3cf03c" fill-opacity="0.75"/><path d="M428.94 102.25A35.1 35.1 0 0 1 431.21 98.47Q460.1 118.4 448.96 151.69A35.1 35.1 0 0 1 444.88 150.03Q460.1 118.4 428.94 102.25Z" fill="#3cf03c" fill-opacity="0.66"/><path d="M443.95 149.56A35.1 35.1 0 0 1 440.17 147.29Q460.1 118.4 491.29 134.5A35.1 35.1 0 0 1 489.03 138.28Q460.1 118.4 443.95 149.56Z" fill="#3cf03c" fill-opacity="0.57"/><path d="M493.41 129.48A35.1 35.1 0 0 1 491.75 133.57Q460.1 118.4 439.27 146.65A35.1 35.1 0 0 1 435.89 143.82Q460.1 118.4 493.41 129.48Z" fill="#3cf03c" fill-opacity="0.57"/><path d="M493.56 107.79A35.1 35.1 0 0 1 494.62 112.06Q460.1 118.4 428.69 134.06A35.1 35.1 0 0 1 426.97 130Q460.1 118.4 493.56 107.79Z" fill="#3cf03c" fill-opacity="0.43"/><path d="M431.85 97.57A35.1 35.1 0 0 1 434.68 94.19Q460.1 118.4 493.56 107.79A35.1 35.1 0 0 1 494.62 112.06Q460.1 118.4 431.85 97.57Z" fill="#3cf03c" fill-opacity="0.39"/><path d="M494.81 113.15A35.1 35.1 0 0 1 495.19 117.54Q460.1 118.4 485.14 93.8A35.1 35.1 0 0 1 488.02 97.13Q460.1 118.4 494.81 113.15Z" fill="#3cf03c" fill-opacity="0.34"/><path d="M491.48 102.68A35.1 35.1 0 0 1 493.21 106.74Q460.1 118.4 444.44 86.99A35.1 35.1 0 0 1 448.5 85.27Q460.1 118.4 491.48 102.68Z" fill="#3cf03c" fill-opacity="0.34"/><path d="M495.2 118.65A35.1 35.1 0 0 1 494.89 123.04Q460.1 118.4 444.33 87.04A35.1 35.1 0 0 1 448.38 85.31Q460.1 118.4 495.2 118.65Z" fill="#3cf03c" fill-opacity="0.3"/><path d="M494.73 124.13A35.1 35.1 0 0 1 493.74 128.43Q460.1 118.4 439.22 146.62A35.1 35.1 0 0 1 435.85 143.78Q460.1 118.4 494.73 124.13Z" fill="#3cf03c" fill-opacity="0.3"/><path d="M480.53 146.94A35.1 35.1 0 0 1 476.79 149.28Q460.1 118.4 428.74 134.17A35.1 35.1 0 0 1 427.01 130.12Q460.1 118.4 480.53 146.94Z" fill="#3cf03c" fill-opacity="0.34"/><path d="M475.82 149.78A35.1 35.1 0 0 1 471.76 151.51Q460.1 118.4 488.64 97.97A35.1 35.1 0 0 1 490.98 101.71Q460.1 118.4 475.82 149.78Z" fill="#3cf03c" fill-opacity="0.39"/><path d="M484.75 143.39A35.1 35.1 0 0 1 481.42 146.28Q460.1 118.4 439.32 146.69A35.1 35.1 0 0 1 435.94 143.86Q460.1 118.4 484.75 143.39Z" fill="#3cf03c" fill-opacity="0.34"/><path d="M470.71 151.86A35.1 35.1 0 0 1 466.44 152.92Q460.1 118.4 449.08 151.72A35.1 35.1 0 0 1 444.99 150.08Q460.1 118.4 470.71 151.86Z" fill="#3cf03c" fill-opacity="0.39"/><path d="M465.35 153.11A35.1 35.1 0 0 1 460.96 153.49Q460.1 118.4 480.98 90.18A35.1 35.1 0 0 1 484.35 93.02Q460.1 118.4 465.35 153.11Z" fill="#3cf03c" fill-opacity="0.39"/><path d="M454.37 153.03A35.1 35.1 0 0 1 450.07 152.04Q460.1 118.4 444.38 87.02A35.1 35.1 0 0 1 448.44 85.29Q460.1 118.4 454.37 153.03Z" fill="#3cf03c" fill-opacity="0.39"/><path d="M459.85 153.5A35.1 35.1 0 0 1 455.46 153.19Q460.1 118.4 439.27 146.65A35.1 35.1 0 0 1 435.89 143.82Q460.1 118.4 459.85 153.5Z" fill="#3cf03c" fill-opacity="0.39"/><path d="M471.18 85.09A35.1 35.1 0 0 1 475.27 86.75Q460.1 118.4 449.02 151.71A35.1 35.1 0 0 1 444.93 150.05Q460.1 118.4 471.18 85.09Z" fill="#3cf03c" fill-opacity="0.39"/><path d="M439.67 89.86A35.1 35.1 0 0 1 443.41 87.52Q460.1 118.4 428.72 134.12A35.1 35.1 0 0 1 426.99 130.06Q460.1 118.4 439.67 89.86Z" fill="#3cf03c" fill-opacity="0.39"/><path d="M449.49 84.94A35.1 35.1 0 0 1 453.76 83.88Q460.1 118.4 448.96 151.69A35.1 35.1 0 0 1 444.88 150.03Q460.1 118.4 449.49 84.94Z" fill="#3cf03c" fill-opacity="0.75"/><path d="M460.35 83.3A35.1 35.1 0 0 1 464.74 83.61Q460.1 118.4 426.79 107.32A35.1 35.1 0 0 1 428.45 103.23Q460.1 118.4 460.35 83.3Z" fill="#3cf03c" fill-opacity="0.48"/><path d="M488.35 139.23A35.1 35.1 0 0 1 485.52 142.61Q460.1 118.4 425.4 123.71A35.1 35.1 0 0 1 425.01 119.32Q460.1 118.4 488.35 139.23Z" fill="#3cf03c" fill-opacity="0.57"/><path d="M432.07 97.28A35.1 35.1 0 0 1 434.43 94.46Q460.1 118.4 429.31 101.54A35.1 35.1 0 0 1 431.24 98.42Q460.1 118.4 432.07 97.28Z" fill="#3cf03c" fill-opacity="0.57"/></g>
<circle cx="460.1" cy="118.4" r="36.95" fill="none" stroke="#7aa87a" stroke-width="3.1"/>
<path d="M497.05 118.85A36.95 36.95 0 0 1 496.75 123.1M496.52 124.63A36.95 36.95 0 0 1 495.56 128.77M495.1 130.25A36.95 36.95 0 0 1 493.51 134.19M492.82 135.58A36.95 36.95 0 0 1 490.62 139.22M489.73 140.48A36.95 36.95 0 0 1 486.99 143.74M485.91 144.84A36.95 36.95 0 0 1 482.7 147.64M481.45 148.56A36.95 36.95 0 0 1 477.84 150.81M476.47 151.53A36.95 36.95 0 0 1 472.56 153.19M471.09 153.68A36.95 36.95 0 0 1 466.96 154.71M465.43 154.96A36.95 36.95 0 0 1 461.2 155.33M459.65 155.35A36.95 36.95 0 0 1 455.4 155.05M453.87 154.82A36.95 36.95 0 0 1 449.73 153.86M448.25 153.4A36.95 36.95 0 0 1 444.31 151.81M442.92 151.12A36.95 36.95 0 0 1 439.28 148.92M438.02 148.03A36.95 36.95 0 0 1 434.76 145.29M433.66 144.21A36.95 36.95 0 0 1 430.86 141M429.94 139.75A36.95 36.95 0 0 1 427.69 136.14M426.97 134.77A36.95 36.95 0 0 1 425.31 130.86M424.82 129.39A36.95 36.95 0 0 1 423.79 125.26M423.54 123.73A36.95 36.95 0 0 1 423.17 119.5M423.15 117.95A36.95 36.95 0 0 1 423.45 113.7M423.68 112.17A36.95 36.95 0 0 1 424.64 108.03M425.1 106.55A36.95 36.95 0 0 1 426.69 102.61M427.38 101.22A36.95 36.95 0 0 1 429.58 97.58M430.47 96.32A36.95 36.95 0 0 1 433.21 93.06M434.29 91.96A36.95 36.95 0 0 1 437.5 89.16M438.75 88.24A36.95 36.95 0 0 1 442.36 85.99M443.73 85.27A36.95 36.95 0 0 1 447.64 83.61M449.11 83.12A36.95 36.95 0 0 1 453.24 82.09M454.77 81.84A36.95 36.95 0 0 1 459 81.47M460.55 81.45A36.95 36.95 0 0 1 464.8 81.75M466.33 81.98A36.95 36.95 0 0 1 470.47 82.94M471.95 83.4A36.95 36.95 0 0 1 475.89 84.99M477.28 85.68A36.95 36.95 0 0 1 480.92 87.88M482.18 88.77A36.95 36.95 0 0 1 485.44 91.51M486.54 92.59A36.95 36.95 0 0 1 489.34 95.8M490.26 97.05A36.95 36.95 0 0 1 492.51 100.66M493.23 102.03A36.95 36.95 0 0 1 494.89 105.94M495.38 107.41A36.95 36.95 0 0 1 496.41 111.54M496.66 113.07A36.95 36.95 0 0 1 497.03 117.3" fill="none" stroke="#3cfa3c" stroke-width="2.17"/>
<g><text transform="translate(500.51 122.48) rotate(4)" font-size="3.5" font-style="italic" stroke="#222" stroke-width="0.16" fill="#1a1a1a">ASXL1</text><text transform="translate(499.38 128.75) rotate(13)" font-size="3.5" font-style="italic" stroke="#222" stroke-width="0.16" fill="#1a1a1a">BCOR/L1</text><text transform="translate(497.28 134.77) rotate(22)" font-size="3.5" font-style="italic" stroke="#222" stroke-width="0.16" fill="#1a1a1a">CBL</text><text transform="translate(494.26 140.38) rotate(31)" font-size="3.5" font-style="italic" stroke="#222" stroke-width="0.16" fill="#1a1a1a">CEBPA<tspan font-size="2.45" dy="-1.05">bi</tspan></text><text transform="translate(490.4 145.45) rotate(40)" font-size="3.5" font-style="italic" stroke="#222" stroke-width="0.16" fill="#1a1a1a">CEBPA<tspan font-size="2.45" dy="-1.05">m</tspan></text><text transform="translate(485.79 149.86) rotate(49)" font-size="3.5" font-style="italic" stroke="#222" stroke-width="0.16" fill="#1a1a1a">del(11q)</text><text transform="translate(480.55 153.49) rotate(58)" font-size="3.5" font-style="italic" stroke="#222" stroke-width="0.16" fill="#1a1a1a">del(12p)</text><text transform="translate(474.81 156.26) rotate(67)" font-size="3.5" font-style="italic" stroke="#222" stroke-width="0.16" fill="#1a1a1a">del(13q)</text><text transform="translate(468.71 158.1) rotate(76)" font-size="3.5" font-style="italic" stroke="#222" stroke-width="0.16" fill="#1a1a1a">-17/del(17p)</text><text transform="translate(462.39 158.95) rotate(85)" font-size="3.5" font-style="italic" stroke="#222" stroke-width="0.16" fill="#1a1a1a">del(20q)</text><text transform="translate(458.51 158.99) rotate(274)" font-size="3.5" font-style="italic" text-anchor="end" stroke="#222" stroke-width="0.16" fill="#1a1a1a">-5/del(5q)</text><text transform="translate(452.18 158.24) rotate(283)" font-size="3.5" font-style="italic" text-anchor="end" stroke="#222" stroke-width="0.16" fill="#1a1a1a">-6/del(6q)</text><text transform="translate(446.05 156.51) rotate(292)" font-size="3.5" font-style="italic" text-anchor="end" stroke="#222" stroke-width="0.16" fill="#1a1a1a">-7/del(7q)</text><text transform="translate(440.26 153.84) rotate(301)" font-size="3.5" font-style="italic" text-anchor="end" stroke="#222" stroke-width="0.16" fill="#1a1a1a">-9/del(9q)</text><text transform="translate(434.96 150.3) rotate(310)" font-size="3.5" font-style="italic" text-anchor="end" stroke="#222" stroke-width="0.16" fill="#1a1a1a">DNMT3A</text><text transform="translate(430.28 145.98) rotate(319)" font-size="3.5" font-style="italic" text-anchor="end" stroke="#222" stroke-width="0.16" fill="#1a1a1a">ETV6</text><text transform="translate(426.33 140.97) rotate(328)" font-size="3.5" font-style="italic" text-anchor="end" stroke="#222" stroke-width="0.16" fill="#1a1a1a">EZH2</text><text transform="translate(423.22 135.41) rotate(337)" font-size="3.5" font-style="italic" text-anchor="end" stroke="#222" stroke-width="0.16" fill="#1a1a1a">FLT3<tspan font-size="2.45" dy="-1.05">ITD</tspan></text><text transform="translate(421.01 129.43) rotate(346)" font-size="3.5" font-style="italic" text-anchor="end" stroke="#222" stroke-width="0.16" fill="#1a1a1a">FLT3<tspan font-size="2.45" dy="-1.05">TKD</tspan></text><text transform="translate(419.76 123.18) rotate(355)" font-size="3.5" font-style="italic" text-anchor="end" stroke="#222" stroke-width="0.16" fill="#1a1a1a">GATA2</text><text transform="translate(419.51 116.81) rotate(364)" font-size="3.5" font-style="italic" text-anchor="end" stroke="#222" stroke-width="0.16" fill="#1a1a1a">IDH1</text><text transform="translate(420.26 110.48) rotate(373)" font-size="3.5" font-style="italic" text-anchor="end" stroke="#222" stroke-width="0.16" fill="#1a1a1a">IDH2<tspan font-size="2.45" dy="-1.05">R140</tspan></text><text transform="translate(421.99 104.35) rotate(382)" font-size="3.5" font-style="italic" text-anchor="end" stroke="#222" stroke-width="0.16" fill="#1a1a1a">IDH2<tspan font-size="2.45" dy="-1.05">R172</tspan></text><text transform="translate(424.66 98.56) rotate(391)" font-size="3.5" font-style="italic" text-anchor="end" stroke="#222" stroke-width="0.16" fill="#1a1a1a">inv(3)/t(3;3)</text><text transform="translate(428.2 93.26) rotate(400)" font-size="3.5" font-style="italic" text-anchor="end" stroke="#222" stroke-width="0.16" fill="#1a1a1a">KIT</text><text transform="translate(432.52 88.58) rotate(409)" font-size="3.5" font-style="italic" text-anchor="end" stroke="#222" stroke-width="0.16" fill="#1a1a1a">KRAS</text><text transform="translate(437.53 84.63) rotate(418)" font-size="3.5" font-style="italic" text-anchor="end" stroke="#222" stroke-width="0.16" fill="#1a1a1a">NPM1</text><text transform="translate(443.09 81.52) rotate(427)" font-size="3.5" font-style="italic" text-anchor="end" stroke="#222" stroke-width="0.16" fill="#1a1a1a">NRAS</text><text transform="translate(449.07 79.31) rotate(436)" font-size="3.5" font-style="italic" text-anchor="end" stroke="#222" stroke-width="0.16" fill="#1a1a1a">RUNX1</text><text transform="translate(455.32 78.06) rotate(445)" font-size="3.5" font-style="italic" text-anchor="end" stroke="#222" stroke-width="0.16" fill="#1a1a1a">SF3B1</text><text transform="translate(464.18 77.99) rotate(274)" font-size="3.5" font-style="italic" stroke="#222" stroke-width="0.16" fill="#1a1a1a">SRSF2</text><text transform="translate(470.45 79.12) rotate(283)" font-size="3.5" font-style="italic" stroke="#222" stroke-width="0.16" fill="#1a1a1a">TET2</text><text transform="translate(476.47 81.22) rotate(292)" font-size="3.5" font-style="italic" stroke="#222" stroke-width="0.16" fill="#1a1a1a">TP53</text><text transform="translate(482.08 84.24) rotate(301)" font-size="3.5" font-style="italic" stroke="#222" stroke-width="0.16" fill="#1a1a1a">t(6;9)</text><text transform="translate(487.15 88.1) rotate(310)" font-size="3.5" font-style="italic" stroke="#222" stroke-width="0.16" fill="#1a1a1a">+8</text><text transform="translate(491.56 92.71) rotate(319)" font-size="3.5" font-style="italic" stroke="#222" stroke-width="0.16" fill="#1a1a1a">U2AF1</text><text transform="translate(495.19 97.95) rotate(328)" font-size="3.5" font-style="italic" stroke="#222" stroke-width="0.16" fill="#1a1a1a">WT1</text><text transform="translate(497.96 103.69) rotate(337)" font-size="3.5" font-style="italic" stroke="#222" stroke-width="0.16" fill="#1a1a1a">-X</text><text transform="translate(499.8 109.79) rotate(346)" font-size="3.5" font-style="italic" stroke="#222" stroke-width="0.16" fill="#1a1a1a">-Y</text><text transform="translate(500.65 116.11) rotate(355)" font-size="3.5" font-style="italic" stroke="#222" stroke-width="0.16" fill="#1a1a1a">ZRSR2</text></g>
<text x="3.2" y="198.7" font-size="12.2" font-weight="bold" fill="#000">C</text>
<path d="M33.8 194.73h7.1v4.13h-7.1zM33.8 198.87h5.7v4.13h-5.7zM33.8 203h18.2v4.13h-18.2zM33.8 211.26h38.6v4.13h-38.6zM33.8 215.39h57.1v4.13h-57.1zM33.8 219.52h10.9v4.13h-10.9zM33.8 223.65h78.4v4.13h-78.4zM33.8 227.78h19.2v4.13h-19.2zM33.8 231.91h4v4.13h-4zM33.8 236.04h9.7v4.13h-9.7zM33.8 240.18h2v4.13h-2zM33.8 244.31h6.9v4.13h-6.9zM33.8 248.44h23.4v4.13h-23.4zM33.8 252.57h14.4v4.13h-14.4zM33.8 256.7h5.7v4.13h-5.7zM33.8 260.83h8v4.13h-8zM33.8 264.96h14v4.13h-14zM33.8 269.09h14v4.13h-14zM33.8 273.22h5.7v4.13h-5.7zM33.8 277.35h29.1v4.13h-29.1zM33.8 281.49h6.9v4.13h-6.9zM33.8 289.75h6.9v4.13h-6.9zM33.8 293.88h24.7v4.13h-24.7zM33.8 298.01h60.2v4.13h-60.2zM33.8 302.14h2.8v4.13h-2.8zM33.8 310.4h29.1v4.13h-29.1zM33.8 314.53h6.9v4.13h-6.9zM33.8 318.66h0.5v4.13h-0.5zM33.8 322.8h0.5v4.13h-0.5zM33.8 335.19h1v4.13h-1zM33.8 339.32h9v4.13h-9zM33.8 351.71h3.2v4.13h-3.2zM33.8 355.84h2.6v4.13h-2.6z" fill="#ff6400"/>
<path d="M33.8 192.5V361.7" class="ax"/>
<text x="30.2" y="198.1" font-size="3.45" font-style="italic" text-anchor="end" stroke="#222" stroke-width="0.17" fill="#1a1a1a">ZRSR2</text>
<text x="30.2" y="202.23" font-size="3.45" font-style="italic" text-anchor="end" stroke="#222" stroke-width="0.17" fill="#1a1a1a">WT1</text>
<text x="30.2" y="206.36" font-size="3.45" font-style="italic" text-anchor="end" stroke="#222" stroke-width="0.17" fill="#1a1a1a">U2AF1</text>
<text x="30.2" y="210.49" font-size="3.45" font-style="italic" text-anchor="end" stroke="#222" stroke-width="0.17" fill="#1a1a1a">TP53</text>
<text x="30.2" y="214.62" font-size="3.45" font-style="italic" text-anchor="end" stroke="#222" stroke-width="0.17" fill="#1a1a1a">TET2</text>
<text x="30.2" y="218.76" font-size="3.45" font-style="italic" text-anchor="end" stroke="#222" stroke-width="0.17" fill="#1a1a1a">SRSF2</text>
<text x="30.2" y="222.89" font-size="3.45" font-style="italic" text-anchor="end" stroke="#222" stroke-width="0.17" fill="#1a1a1a">SF3B1</text>
<text x="30.2" y="227.02" font-size="3.45" font-style="italic" text-anchor="end" stroke="#222" stroke-width="0.17" fill="#1a1a1a">RUNX1</text>
<text x="30.2" y="231.15" font-size="3.45" font-style="italic" text-anchor="end" stroke="#222" stroke-width="0.17" fill="#1a1a1a">NRAS</text>
<text x="30.2" y="235.28" font-size="3.45" font-style="italic" text-anchor="end" stroke="#222" stroke-width="0.17" fill="#1a1a1a">NPM1</text>
<text x="30.2" y="239.41" font-size="3.45" font-style="italic" text-anchor="end" stroke="#222" stroke-width="0.17" fill="#1a1a1a">KRAS</text>
<text x="30.2" y="243.54" font-size="3.45" font-style="italic" text-anchor="end" stroke="#222" stroke-width="0.17" fill="#1a1a1a">KIT</text>
<text x="30.2" y="247.67" font-size="3.45" font-style="italic" text-anchor="end" stroke="#222" stroke-width="0.17" fill="#1a1a1a">IDH2<tspan font-size="2.42" dy="-1.03">R172</tspan></text>
<text x="30.2" y="251.8" font-size="3.45" font-style="italic" text-anchor="end" stroke="#222" stroke-width="0.17" fill="#1a1a1a">IDH2<tspan font-size="2.42" dy="-1.03">R140</tspan></text>
<text x="30.2" y="255.93" font-size="3.45" font-style="italic" text-anchor="end" stroke="#222" stroke-width="0.17" fill="#1a1a1a">IDH1</text>
<text x="30.2" y="260.06" font-size="3.45" font-style="italic" text-anchor="end" stroke="#222" stroke-width="0.17" fill="#1a1a1a">GATA2</text>
<text x="30.2" y="264.2" font-size="3.45" font-style="italic" text-anchor="end" stroke="#222" stroke-width="0.17" fill="#1a1a1a">FLT3<tspan font-size="2.42" dy="-1.03">TKD</tspan></text>
<text x="30.2" y="268.33" font-size="3.45" font-style="italic" text-anchor="end" stroke="#222" stroke-width="0.17" fill="#1a1a1a">FLT3<tspan font-size="2.42" dy="-1.03">ITD</tspan></text>
<text x="30.2" y="272.46" font-size="3.45" font-style="italic" text-anchor="end" stroke="#222" stroke-width="0.17" fill="#1a1a1a">EZH2</text>
<text x="30.2" y="276.59" font-size="3.45" font-style="italic" text-anchor="end" stroke="#222" stroke-width="0.17" fill="#1a1a1a">ETV6</text>
<text x="30.2" y="280.72" font-size="3.45" font-style="italic" text-anchor="end" stroke="#222" stroke-width="0.17" fill="#1a1a1a">DNMT3A</text>
<text x="30.2" y="284.85" font-size="3.45" font-style="italic" text-anchor="end" stroke="#222" stroke-width="0.17" fill="#1a1a1a">CEBPA<tspan font-size="2.42" dy="-1.03">bi</tspan></text>
<text x="30.2" y="288.98" font-size="3.45" font-style="italic" text-anchor="end" stroke="#222" stroke-width="0.17" fill="#1a1a1a">CEBPA<tspan font-size="2.42" dy="-1.03">m</tspan></text>
<text x="30.2" y="293.11" font-size="3.45" font-style="italic" text-anchor="end" stroke="#222" stroke-width="0.17" fill="#1a1a1a">CBL</text>
<text x="30.2" y="297.24" font-size="3.45" font-style="italic" text-anchor="end" stroke="#222" stroke-width="0.17" fill="#1a1a1a">BCOR/L1</text>
<text x="30.2" y="301.38" font-size="3.45" font-style="italic" text-anchor="end" stroke="#222" stroke-width="0.17" fill="#1a1a1a">ASXL1</text>
<text x="30.2" y="305.51" font-size="3.45" font-style="italic" text-anchor="end" stroke="#222" stroke-width="0.17" fill="#1a1a1a">-Y</text>
<text x="30.2" y="309.64" font-size="3.45" font-style="italic" text-anchor="end" stroke="#222" stroke-width="0.17" fill="#1a1a1a">-X</text>
<text x="30.2" y="313.77" font-size="3.45" font-style="italic" text-anchor="end" stroke="#222" stroke-width="0.17" fill="#1a1a1a">+8</text>
<text x="30.2" y="317.9" font-size="3.45" font-style="italic" text-anchor="end" stroke="#222" stroke-width="0.17" fill="#1a1a1a">del(20q)</text>
<text x="30.2" y="322.03" font-size="3.45" font-style="italic" text-anchor="end" stroke="#222" stroke-width="0.17" fill="#1a1a1a">-17/del(17p)</text>
<text x="30.2" y="326.16" font-size="3.45" font-style="italic" text-anchor="end" stroke="#222" stroke-width="0.17" fill="#1a1a1a">del(13q)</text>
<text x="30.2" y="330.29" font-size="3.45" font-style="italic" text-anchor="end" stroke="#222" stroke-width="0.17" fill="#1a1a1a">del(12p)</text>
<text x="30.2" y="334.42" font-size="3.45" font-style="italic" text-anchor="end" stroke="#222" stroke-width="0.17" fill="#1a1a1a">del(11q)</text>
<text x="30.2" y="338.55" font-size="3.45" font-style="italic" text-anchor="end" stroke="#222" stroke-width="0.17" fill="#1a1a1a">-9/del(9q)</text>
<text x="30.2" y="342.69" font-size="3.45" font-style="italic" text-anchor="end" stroke="#222" stroke-width="0.17" fill="#1a1a1a">-7/del(7q)</text>
<text x="30.2" y="346.82" font-size="3.45" font-style="italic" text-anchor="end" stroke="#222" stroke-width="0.17" fill="#1a1a1a">-6/del(6q)</text>
<text x="30.2" y="350.95" font-size="3.45" font-style="italic" text-anchor="end" stroke="#222" stroke-width="0.17" fill="#1a1a1a">t(6;9)</text>
<text x="30.2" y="355.08" font-size="3.45" font-style="italic" text-anchor="end" stroke="#222" stroke-width="0.17" fill="#1a1a1a">-5/del(5q)</text>
<text x="30.2" y="359.21" font-size="3.45" font-style="italic" text-anchor="end" stroke="#222" stroke-width="0.17" fill="#1a1a1a">inv(3)/t(3;3)</text>
<path d="M31.4 196.8H33.8M31.4 200.93H33.8M31.4 205.06H33.8M31.4 209.19H33.8M31.4 213.32H33.8M31.4 217.46H33.8M31.4 221.59H33.8M31.4 225.72H33.8M31.4 229.85H33.8M31.4 233.98H33.8M31.4 238.11H33.8M31.4 242.24H33.8M31.4 246.37H33.8M31.4 250.5H33.8M31.4 254.63H33.8M31.4 258.76H33.8M31.4 262.9H33.8M31.4 267.03H33.8M31.4 271.16H33.8M31.4 275.29H33.8M31.4 279.42H33.8M31.4 283.55H33.8M31.4 287.68H33.8M31.4 291.81H33.8M31.4 295.94H33.8M31.4 300.08H33.8M31.4 304.21H33.8M31.4 308.34H33.8M31.4 312.47H33.8M31.4 316.6H33.8M31.4 320.73H33.8M31.4 324.86H33.8M31.4 328.99H33.8M31.4 333.12H33.8M31.4 337.25H33.8M31.4 341.38H33.8M31.4 345.52H33.8M31.4 349.65H33.8M31.4 353.78H33.8M31.4 357.91H33.8" class="tk"/>
<path d="M33.8 361.7H112.5" class="ax"/>
<text x="33.8" y="368.8" font-size="3.6" text-anchor="middle" stroke="#222" stroke-width="0.1" fill="#1a1a1a">0</text>
<text x="49" y="368.8" font-size="3.6" text-anchor="middle" stroke="#222" stroke-width="0.1" fill="#1a1a1a">10</text>
<text x="64.2" y="368.8" font-size="3.6" text-anchor="middle" stroke="#222" stroke-width="0.1" fill="#1a1a1a">20</text>
<text x="79.4" y="368.8" font-size="3.6" text-anchor="middle" stroke="#222" stroke-width="0.1" fill="#1a1a1a">30</text>
<text x="94.6" y="368.8" font-size="3.6" text-anchor="middle" stroke="#222" stroke-width="0.1" fill="#1a1a1a">40</text>
<text x="109.8" y="368.8" font-size="3.6" text-anchor="middle" stroke="#222" stroke-width="0.1" fill="#1a1a1a">50</text>
<path d="M33.8 361.7V363.9M49 361.7V363.9M64.2 361.7V363.9M79.4 361.7V363.9M94.6 361.7V363.9M109.8 361.7V363.9" class="tk"/>
<text x="73.15" y="374.6" font-size="4.05" text-anchor="middle" stroke="#222" stroke-width="0.16" fill="#1a1a1a">Frequency [%]</text>
<path d="M118.8 361.7H198" class="ax"/>
<text x="118.8" y="368.8" font-size="3.6" text-anchor="middle" stroke="#222" stroke-width="0.1" fill="#1a1a1a">0</text>
<text x="145.2" y="368.8" font-size="3.6" text-anchor="middle" stroke="#222" stroke-width="0.1" fill="#1a1a1a">5</text>
<text x="171.6" y="368.8" font-size="3.6" text-anchor="middle" stroke="#222" stroke-width="0.1" fill="#1a1a1a">10</text>
<text x="198" y="368.8" font-size="3.6" text-anchor="middle" stroke="#222" stroke-width="0.1" fill="#1a1a1a">15</text>
<path d="M118.8 361.7V363.9M145.2 361.7V363.9M171.6 361.7V363.9M198 361.7V363.9" class="tk"/>
<text x="158.4" y="374.6" font-size="4.05" text-anchor="middle" stroke="#222" stroke-width="0.16" fill="#1a1a1a">Mean Decrease in Accuracy [%]</text>
<g fill="#333"><circle cx="119.3" cy="196.8" r="0.8"/><circle cx="120.2" cy="200.93" r="0.8"/><circle cx="120.2" cy="213.32" r="0.8"/><circle cx="119.3" cy="221.59" r="0.8"/><circle cx="119.6" cy="229.85" r="0.8"/><circle cx="120.2" cy="238.11" r="0.8"/><circle cx="119.6" cy="242.24" r="0.8"/><circle cx="119.3" cy="246.37" r="0.8"/><circle cx="120.2" cy="250.5" r="0.8"/><circle cx="119.6" cy="254.63" r="0.8"/><circle cx="119.3" cy="258.76" r="0.8"/><circle cx="120.2" cy="262.9" r="0.8"/><circle cx="119.6" cy="267.03" r="0.8"/><circle cx="119.3" cy="271.16" r="0.8"/><circle cx="120.2" cy="275.29" r="0.8"/><circle cx="119.6" cy="279.42" r="0.8"/><circle cx="119.3" cy="283.55" r="0.8"/><circle cx="120.2" cy="287.68" r="0.8"/><circle cx="119.6" cy="291.81" r="0.8"/><circle cx="119.6" cy="304.21" r="0.8"/><circle cx="119.3" cy="308.34" r="0.8"/><circle cx="120.2" cy="312.47" r="0.8"/><circle cx="119.6" cy="316.6" r="0.8"/><circle cx="119.3" cy="320.73" r="0.8"/><circle cx="120.2" cy="324.86" r="0.8"/><circle cx="119.6" cy="328.99" r="0.8"/><circle cx="119.3" cy="333.12" r="0.8"/><circle cx="120.2" cy="337.25" r="0.8"/><circle cx="119.6" cy="341.38" r="0.8"/><circle cx="119.3" cy="345.52" r="0.8"/><circle cx="120.2" cy="349.65" r="0.8"/><circle cx="119.3" cy="357.91" r="0.8"/></g>
<g fill="#e8202a"><circle cx="123.8" cy="205.06" r="0.8"/><circle cx="128.3" cy="209.19" r="0.8"/><circle cx="152.3" cy="217.46" r="0.8"/><circle cx="185.6" cy="225.72" r="0.8"/><circle cx="154.2" cy="233.98" r="0.8"/><circle cx="130" cy="295.94" r="0.8"/><circle cx="156.75" cy="300.08" r="0.8"/><circle cx="125" cy="353.78" r="0.8"/></g>
<g><path d="M201.99 255.24A35.1 35.1 0 0 1 206.26 254.18Q212.6 288.7 247.7 288.95A35.1 35.1 0 0 1 247.39 293.34Q212.6 288.7 201.99 255.24Z" fill="#ff6a08" fill-opacity="0.84"/><path d="M212.85 253.6A35.1 35.1 0 0 1 217.24 253.91Q212.6 288.7 177.97 282.97A35.1 35.1 0 0 1 178.96 278.67Q212.6 288.7 212.85 253.6Z" fill="#ff6a08" fill-opacity="0.79"/><path d="M177.97 282.97A35.1 35.1 0 0 1 178.96 278.67Q212.6 288.7 247.23 294.43A35.1 35.1 0 0 1 246.24 298.73Q212.6 288.7 177.97 282.97Z" fill="#ff6a08" fill-opacity="0.7"/><path d="M233.43 260.45A35.1 35.1 0 0 1 236.81 263.28Q212.6 288.7 191.77 316.95A35.1 35.1 0 0 1 188.39 314.12Q212.6 288.7 233.43 260.45Z" fill="#ff6a08" fill-opacity="0.75"/><path d="M218.33 254.07A35.1 35.1 0 0 1 222.63 255.06Q212.6 288.7 187.61 313.35A35.1 35.1 0 0 1 184.72 310.02Q212.6 288.7 218.33 254.07Z" fill="#ff6a08" fill-opacity="0.62"/><path d="M201.99 255.24A35.1 35.1 0 0 1 206.26 254.18Q212.6 288.7 177.5 288.45A35.1 35.1 0 0 1 177.81 284.06Q212.6 288.7 201.99 255.24Z" fill="#ff6a08" fill-opacity="0.7"/><path d="M207.35 253.99A35.1 35.1 0 0 1 211.74 253.61Q212.6 288.7 247.7 288.95A35.1 35.1 0 0 1 247.39 293.34Q212.6 288.7 207.35 253.99Z" fill="#ff6a08" fill-opacity="0.62"/><path d="M237.59 264.05A35.1 35.1 0 0 1 240.48 267.38Q212.6 288.7 184.06 309.13A35.1 35.1 0 0 1 181.72 305.39Q212.6 288.7 237.59 264.05Z" fill="#ff6a08" fill-opacity="0.62"/><path d="M202.05 255.22A35.1 35.1 0 0 1 206.32 254.17Q212.6 288.7 212.85 253.6A35.1 35.1 0 0 1 217.24 253.91Q212.6 288.7 202.05 255.22Z" fill="#ff6a08" fill-opacity="0.53"/><path d="M247.7 289.01A35.1 35.1 0 0 1 247.38 293.4Q212.6 288.7 212.91 253.6A35.1 35.1 0 0 1 217.3 253.92Q212.6 288.7 247.7 289.01Z" fill="#ff6a08" fill-opacity="0.62"/><path d="M218.33 254.07A35.1 35.1 0 0 1 222.63 255.06Q212.6 288.7 247.7 288.88A35.1 35.1 0 0 1 247.4 293.28Q212.6 288.7 218.33 254.07Z" fill="#ff6a08" fill-opacity="0.53"/><path d="M233.43 260.45A35.1 35.1 0 0 1 236.81 263.28Q212.6 288.7 201.93 255.26A35.1 35.1 0 0 1 206.2 254.19Q212.6 288.7 233.43 260.45Z" fill="#ff6a08" fill-opacity="0.53"/><path d="M247.23 294.43A35.1 35.1 0 0 1 246.24 298.73Q212.6 288.7 201.99 255.24A35.1 35.1 0 0 1 206.26 254.18Q212.6 288.7 247.23 294.43Z" fill="#ff6a08" fill-opacity="0.53"/><path d="M191.77 316.95A35.1 35.1 0 0 1 188.39 314.12Q212.6 288.7 247.7 288.95A35.1 35.1 0 0 1 247.39 293.34Q212.6 288.7 191.77 316.95Z" fill="#ff6a08" fill-opacity="0.44"/><path d="M181.22 304.42A35.1 35.1 0 0 1 179.49 300.36Q212.6 288.7 247.7 289.01A35.1 35.1 0 0 1 247.38 293.4Q212.6 288.7 181.22 304.42Z" fill="#ff6a08" fill-opacity="0.44"/><path d="M179.14 299.31A35.1 35.1 0 0 1 178.08 295.04Q212.6 288.7 212.78 253.6A35.1 35.1 0 0 1 217.18 253.9Q212.6 288.7 179.14 299.31Z" fill="#ff6a08" fill-opacity="0.44"/><path d="M177.89 293.95A35.1 35.1 0 0 1 177.51 289.56Q212.6 288.7 233.48 260.48A35.1 35.1 0 0 1 236.85 263.32Q212.6 288.7 177.89 293.95Z" fill="#ff6a08" fill-opacity="0.35"/><path d="M196.88 257.32A35.1 35.1 0 0 1 200.94 255.59Q212.6 288.7 247.7 288.88A35.1 35.1 0 0 1 247.4 293.28Q212.6 288.7 196.88 257.32Z" fill="#ff6a08" fill-opacity="0.53"/><path d="M196.88 257.32A35.1 35.1 0 0 1 200.94 255.59Q212.6 288.7 177.5 288.45A35.1 35.1 0 0 1 177.81 284.06Q212.6 288.7 196.88 257.32Z" fill="#ff6a08" fill-opacity="0.35"/><path d="M187.95 263.71A35.1 35.1 0 0 1 191.28 260.82Q212.6 288.7 247.22 294.49A35.1 35.1 0 0 1 246.22 298.79Q212.6 288.7 187.95 263.71Z" fill="#ff6a08" fill-opacity="0.35"/><path d="M184.35 267.87A35.1 35.1 0 0 1 187.18 264.49Q212.6 288.7 245.91 299.78A35.1 35.1 0 0 1 244.25 303.87Q212.6 288.7 184.35 267.87Z" fill="#ff6a08" fill-opacity="0.31"/><path d="M192.17 260.16A35.1 35.1 0 0 1 195.91 257.82Q212.6 288.7 191.72 316.92A35.1 35.1 0 0 1 188.35 314.08Q212.6 288.7 192.17 260.16Z" fill="#ff6a08" fill-opacity="0.31"/><path d="M179.29 277.62A35.1 35.1 0 0 1 180.95 273.53Q212.6 288.7 247.31 283.45A35.1 35.1 0 0 1 247.69 287.84Q212.6 288.7 179.29 277.62Z" fill="#ff6a08" fill-opacity="0.31"/><path d="M181.44 272.55A35.1 35.1 0 0 1 183.71 268.77Q212.6 288.7 243.76 304.85A35.1 35.1 0 0 1 241.49 308.63Q212.6 288.7 181.44 272.55Z" fill="#ff6a08" fill-opacity="0.22"/><path d="M184.06 309.13A35.1 35.1 0 0 1 181.72 305.39Q212.6 288.7 202.05 255.22A35.1 35.1 0 0 1 206.32 254.17Q212.6 288.7 184.06 309.13Z" fill="#ff6a08" fill-opacity="0.44"/><path d="M187.61 313.35A35.1 35.1 0 0 1 184.72 310.02Q212.6 288.7 218.39 254.08A35.1 35.1 0 0 1 222.69 255.08Q212.6 288.7 187.61 313.35Z" fill="#ff6a08" fill-opacity="0.35"/><path d="M247.31 283.45A35.1 35.1 0 0 1 247.69 287.84Q212.6 288.7 201.93 255.26A35.1 35.1 0 0 1 206.2 254.19Q212.6 288.7 247.31 283.45Z" fill="#ff6a08" fill-opacity="0.4"/><path d="M241.14 268.27A35.1 35.1 0 0 1 243.48 272.01Q212.6 288.7 181.22 304.42A35.1 35.1 0 0 1 179.49 300.36Q212.6 288.7 241.14 268.27Z" fill="#ff6a08" fill-opacity="0.26"/><path d="M243.98 272.98A35.1 35.1 0 0 1 245.71 277.04Q212.6 288.7 212.85 253.6A35.1 35.1 0 0 1 217.24 253.91Q212.6 288.7 243.98 272.98Z" fill="#ff6a08" fill-opacity="0.22"/><path d="M246.06 278.09A35.1 35.1 0 0 1 247.12 282.36Q212.6 288.7 218.27 254.06A35.1 35.1 0 0 1 222.57 255.05Q212.6 288.7 246.06 278.09Z" fill="#ff6a08" fill-opacity="0.22"/><path d="M245.91 299.78A35.1 35.1 0 0 1 244.25 303.87Q212.6 288.7 218.33 254.07A35.1 35.1 0 0 1 222.63 255.06Q212.6 288.7 245.91 299.78Z" fill="#ff6a08" fill-opacity="0.31"/><path d="M243.76 304.85A35.1 35.1 0 0 1 241.49 308.63Q212.6 288.7 177.89 293.95A35.1 35.1 0 0 1 177.51 289.56Q212.6 288.7 243.76 304.85Z" fill="#ff6a08" fill-opacity="0.26"/><path d="M240.85 309.53A35.1 35.1 0 0 1 238.02 312.91Q212.6 288.7 181.19 304.36A35.1 35.1 0 0 1 179.47 300.3Q212.6 288.7 240.85 309.53Z" fill="#ff6a08" fill-opacity="0.22"/><path d="M233.03 317.24A35.1 35.1 0 0 1 229.29 319.58Q212.6 288.7 201.99 255.24A35.1 35.1 0 0 1 206.26 254.18Q212.6 288.7 233.03 317.24Z" fill="#ff6a08" fill-opacity="0.18"/><path d="M228.32 320.08A35.1 35.1 0 0 1 224.26 321.81Q212.6 288.7 247.7 288.95A35.1 35.1 0 0 1 247.39 293.34Q212.6 288.7 228.32 320.08Z" fill="#ff6a08" fill-opacity="0.18"/><path d="M237.25 313.69A35.1 35.1 0 0 1 233.92 316.58Q212.6 288.7 212.91 253.6A35.1 35.1 0 0 1 217.3 253.92Q212.6 288.7 237.25 313.69Z" fill="#ff6a08" fill-opacity="0.18"/><path d="M223.21 322.16A35.1 35.1 0 0 1 218.94 323.22Q212.6 288.7 233.38 260.41A35.1 35.1 0 0 1 236.76 263.24Q212.6 288.7 223.21 322.16Z" fill="#ff6a08" fill-opacity="0.22"/><path d="M217.85 323.41A35.1 35.1 0 0 1 213.46 323.79Q212.6 288.7 237.59 264.05A35.1 35.1 0 0 1 240.48 267.38Q212.6 288.7 217.85 323.41Z" fill="#ff6a08" fill-opacity="0.22"/><path d="M206.87 323.33A35.1 35.1 0 0 1 202.57 322.34Q212.6 288.7 202.05 255.22A35.1 35.1 0 0 1 206.32 254.17Q212.6 288.7 206.87 323.33Z" fill="#ff6a08" fill-opacity="0.18"/><path d="M212.35 323.8A35.1 35.1 0 0 1 207.96 323.49Q212.6 288.7 218.39 254.08A35.1 35.1 0 0 1 222.69 255.08Q212.6 288.7 212.35 323.8Z" fill="#ff6a08" fill-opacity="0.22"/><path d="M201.52 322.01A35.1 35.1 0 0 1 197.43 320.35Q212.6 288.7 201.93 255.26A35.1 35.1 0 0 1 206.2 254.19Q212.6 288.7 201.52 322.01Z" fill="#ff6a08" fill-opacity="0.35"/><path d="M196.45 319.86A35.1 35.1 0 0 1 192.67 317.59Q212.6 288.7 247.7 289.01A35.1 35.1 0 0 1 247.38 293.4Q212.6 288.7 196.45 319.86Z" fill="#ff6a08" fill-opacity="0.18"/><path d="M223.68 255.39A35.1 35.1 0 0 1 227.77 257.05Q212.6 288.7 201.52 322.01A35.1 35.1 0 0 1 197.43 320.35Q212.6 288.7 223.68 255.39Z" fill="#ff6a08" fill-opacity="0.22"/><path d="M228.75 257.54A35.1 35.1 0 0 1 232.53 259.81Q212.6 288.7 187.95 263.71A35.1 35.1 0 0 1 191.28 260.82Q212.6 288.7 228.75 257.54Z" fill="#ff6a08" fill-opacity="0.18"/><path d="M207.35 253.99A35.1 35.1 0 0 1 211.74 253.61Q212.6 288.7 191.82 316.99A35.1 35.1 0 0 1 188.44 314.16Q212.6 288.7 207.35 253.99Z" fill="#ff6a08" fill-opacity="0.35"/><path d="M177.5 288.39A35.1 35.1 0 0 1 177.82 284Q212.6 288.7 212.78 253.6A35.1 35.1 0 0 1 217.18 253.9Q212.6 288.7 177.5 288.39Z" fill="#ff6a08" fill-opacity="0.35"/><path d="M181.24 304.47A35.1 35.1 0 0 1 179.51 300.42Q212.6 288.7 192.17 260.16A35.1 35.1 0 0 1 195.91 257.82Q212.6 288.7 181.24 304.47Z" fill="#ff6a08" fill-opacity="0.26"/><path d="M237.64 264.1A35.1 35.1 0 0 1 240.52 267.43Q212.6 288.7 247.7 288.88A35.1 35.1 0 0 1 247.4 293.28Q212.6 288.7 237.64 264.1Z" fill="#ff6a08" fill-opacity="0.35"/><path d="M233.43 260.45A35.1 35.1 0 0 1 236.81 263.28Q212.6 288.7 247.7 288.95A35.1 35.1 0 0 1 247.39 293.34Q212.6 288.7 233.43 260.45Z" fill="#ff6a08" fill-opacity="0.44"/><path d="M177.98 282.91A35.1 35.1 0 0 1 178.98 278.61Q212.6 288.7 191.77 316.95A35.1 35.1 0 0 1 188.39 314.12Q212.6 288.7 177.98 282.91Z" fill="#ff6a08" fill-opacity="0.35"/><path d="M184.02 309.08A35.1 35.1 0 0 1 181.7 305.34Q212.6 288.7 247.7 289.01A35.1 35.1 0 0 1 247.38 293.4Q212.6 288.7 184.02 309.08Z" fill="#ff6a08" fill-opacity="0.31"/><path d="M188 263.66A35.1 35.1 0 0 1 191.33 260.78Q212.6 288.7 201.99 255.24A35.1 35.1 0 0 1 206.26 254.18Q212.6 288.7 188 263.66Z" fill="#ff6a08" fill-opacity="0.26"/><path d="M177.78 293.16A35.1 35.1 0 0 1 177.51 289.5Q212.6 288.7 202.75 255.01A35.1 35.1 0 0 1 206.32 254.17Q212.6 288.7 177.78 293.16Z" fill="#ff6a08" fill-opacity="0.26"/><path d="M241.35 268.57A35.1 35.1 0 0 1 243.3 271.68Q212.6 288.7 247.7 288.88A35.1 35.1 0 0 1 247.49 292.55Q212.6 288.7 241.35 268.57Z" fill="#ff6a08" fill-opacity="0.22"/><path d="M245.65 300.53A35.1 35.1 0 0 1 244.23 303.92Q212.6 288.7 201.93 255.26A35.1 35.1 0 0 1 205.48 254.33Q212.6 288.7 245.65 300.53Z" fill="#ff6a08" fill-opacity="0.22"/></g>
<circle cx="212.6" cy="288.7" r="36.95" fill="none" stroke="#9a6a55" stroke-width="3.1"/>
<path d="M249.55 289.15A36.95 36.95 0 0 1 249.25 293.4M249.02 294.93A36.95 36.95 0 0 1 248.06 299.07M247.6 300.55A36.95 36.95 0 0 1 246.01 304.49M245.32 305.88A36.95 36.95 0 0 1 243.12 309.52M242.23 310.78A36.95 36.95 0 0 1 239.49 314.04M238.41 315.14A36.95 36.95 0 0 1 235.2 317.94M233.95 318.86A36.95 36.95 0 0 1 230.34 321.11M228.97 321.83A36.95 36.95 0 0 1 225.06 323.49M223.59 323.98A36.95 36.95 0 0 1 219.46 325.01M217.93 325.26A36.95 36.95 0 0 1 213.7 325.63M212.15 325.65A36.95 36.95 0 0 1 207.9 325.35M206.37 325.12A36.95 36.95 0 0 1 202.23 324.16M200.75 323.7A36.95 36.95 0 0 1 196.81 322.11M195.42 321.42A36.95 36.95 0 0 1 191.78 319.22M190.52 318.33A36.95 36.95 0 0 1 187.26 315.59M186.16 314.51A36.95 36.95 0 0 1 183.36 311.3M182.44 310.05A36.95 36.95 0 0 1 180.19 306.44M179.47 305.07A36.95 36.95 0 0 1 177.81 301.16M177.32 299.69A36.95 36.95 0 0 1 176.29 295.56M176.04 294.03A36.95 36.95 0 0 1 175.67 289.8M175.65 288.25A36.95 36.95 0 0 1 175.95 284M176.18 282.47A36.95 36.95 0 0 1 177.14 278.33M177.6 276.85A36.95 36.95 0 0 1 179.19 272.91M179.88 271.52A36.95 36.95 0 0 1 182.08 267.88M182.97 266.62A36.95 36.95 0 0 1 185.71 263.36M186.79 262.26A36.95 36.95 0 0 1 190 259.46M191.25 258.54A36.95 36.95 0 0 1 194.86 256.29M196.23 255.57A36.95 36.95 0 0 1 200.14 253.91M201.61 253.42A36.95 36.95 0 0 1 205.74 252.39M207.27 252.14A36.95 36.95 0 0 1 211.5 251.77M213.05 251.75A36.95 36.95 0 0 1 217.3 252.05M218.83 252.28A36.95 36.95 0 0 1 222.97 253.24M224.45 253.7A36.95 36.95 0 0 1 228.39 255.29M229.78 255.98A36.95 36.95 0 0 1 233.42 258.18M234.68 259.07A36.95 36.95 0 0 1 237.94 261.81M239.04 262.89A36.95 36.95 0 0 1 241.84 266.1M242.76 267.35A36.95 36.95 0 0 1 245.01 270.96M245.73 272.33A36.95 36.95 0 0 1 247.39 276.24M247.88 277.71A36.95 36.95 0 0 1 248.91 281.84M249.16 283.37A36.95 36.95 0 0 1 249.53 287.6" fill="none" stroke="#ff6400" stroke-width="2.17"/>
<g><text transform="translate(253.01 292.78) rotate(4)" font-size="3.5" font-style="italic" stroke="#222" stroke-width="0.16" fill="#1a1a1a">ASXL1</text><text transform="translate(251.88 299.05) rotate(13)" font-size="3.5" font-style="italic" stroke="#222" stroke-width="0.16" fill="#1a1a1a">BCOR/L1</text><text transform="translate(249.78 305.07) rotate(22)" font-size="3.5" font-style="italic" stroke="#222" stroke-width="0.16" fill="#1a1a1a">CBL</text><text transform="translate(246.76 310.68) rotate(31)" font-size="3.5" font-style="italic" stroke="#222" stroke-width="0.16" fill="#1a1a1a">CEBPA<tspan font-size="2.45" dy="-1.05">bi</tspan></text><text transform="translate(242.9 315.75) rotate(40)" font-size="3.5" font-style="italic" stroke="#222" stroke-width="0.16" fill="#1a1a1a">CEBPA<tspan font-size="2.45" dy="-1.05">m</tspan></text><text transform="translate(238.29 320.16) rotate(49)" font-size="3.5" font-style="italic" stroke="#222" stroke-width="0.16" fill="#1a1a1a">del(11q)</text><text transform="translate(233.05 323.79) rotate(58)" font-size="3.5" font-style="italic" stroke="#222" stroke-width="0.16" fill="#1a1a1a">del(12p)</text><text transform="translate(227.31 326.56) rotate(67)" font-size="3.5" font-style="italic" stroke="#222" stroke-width="0.16" fill="#1a1a1a">del(13q)</text><text transform="translate(221.21 328.4) rotate(76)" font-size="3.5" font-style="italic" stroke="#222" stroke-width="0.16" fill="#1a1a1a">-17/del(17p)</text><text transform="translate(214.89 329.25) rotate(85)" font-size="3.5" font-style="italic" stroke="#222" stroke-width="0.16" fill="#1a1a1a">del(20q)</text><text transform="translate(211.01 329.29) rotate(274)" font-size="3.5" font-style="italic" text-anchor="end" stroke="#222" stroke-width="0.16" fill="#1a1a1a">-5/del(5q)</text><text transform="translate(204.68 328.54) rotate(283)" font-size="3.5" font-style="italic" text-anchor="end" stroke="#222" stroke-width="0.16" fill="#1a1a1a">-6/del(6q)</text><text transform="translate(198.55 326.81) rotate(292)" font-size="3.5" font-style="italic" text-anchor="end" stroke="#222" stroke-width="0.16" fill="#1a1a1a">-7/del(7q)</text><text transform="translate(192.76 324.14) rotate(301)" font-size="3.5" font-style="italic" text-anchor="end" stroke="#222" stroke-width="0.16" fill="#1a1a1a">-9/del(9q)</text><text transform="translate(187.46 320.6) rotate(310)" font-size="3.5" font-style="italic" text-anchor="end" stroke="#222" stroke-width="0.16" fill="#1a1a1a">DNMT3A</text><text transform="translate(182.78 316.28) rotate(319)" font-size="3.5" font-style="italic" text-anchor="end" stroke="#222" stroke-width="0.16" fill="#1a1a1a">ETV6</text><text transform="translate(178.83 311.27) rotate(328)" font-size="3.5" font-style="italic" text-anchor="end" stroke="#222" stroke-width="0.16" fill="#1a1a1a">EZH2</text><text transform="translate(175.72 305.71) rotate(337)" font-size="3.5" font-style="italic" text-anchor="end" stroke="#222" stroke-width="0.16" fill="#1a1a1a">FLT3<tspan font-size="2.45" dy="-1.05">ITD</tspan></text><text transform="translate(173.51 299.73) rotate(346)" font-size="3.5" font-style="italic" text-anchor="end" stroke="#222" stroke-width="0.16" fill="#1a1a1a">FLT3<tspan font-size="2.45" dy="-1.05">TKD</tspan></text><text transform="translate(172.26 293.48) rotate(355)" font-size="3.5" font-style="italic" text-anchor="end" stroke="#222" stroke-width="0.16" fill="#1a1a1a">GATA2</text><text transform="translate(172.01 287.11) rotate(364)" font-size="3.5" font-style="italic" text-anchor="end" stroke="#222" stroke-width="0.16" fill="#1a1a1a">IDH1</text><text transform="translate(172.76 280.78) rotate(373)" font-size="3.5" font-style="italic" text-anchor="end" stroke="#222" stroke-width="0.16" fill="#1a1a1a">IDH2<tspan font-size="2.45" dy="-1.05">R140</tspan></text><text transform="translate(174.49 274.65) rotate(382)" font-size="3.5" font-style="italic" text-anchor="end" stroke="#222" stroke-width="0.16" fill="#1a1a1a">IDH2<tspan font-size="2.45" dy="-1.05">R172</tspan></text><text transform="translate(177.16 268.86) rotate(391)" font-size="3.5" font-style="italic" text-anchor="end" stroke="#222" stroke-width="0.16" fill="#1a1a1a">inv(3)/t(3;3)</text><text transform="translate(180.7 263.56) rotate(400)" font-size="3.5" font-style="italic" text-anchor="end" stroke="#222" stroke-width="0.16" fill="#1a1a1a">KIT</text><text transform="translate(185.02 258.88) rotate(409)" font-size="3.5" font-style="italic" text-anchor="end" stroke="#222" stroke-width="0.16" fill="#1a1a1a">KRAS</text><text transform="translate(190.03 254.93) rotate(418)" font-size="3.5" font-style="italic" text-anchor="end" stroke="#222" stroke-width="0.16" fill="#1a1a1a">NPM1</text><text transform="translate(195.59 251.82) rotate(427)" font-size="3.5" font-style="italic" text-anchor="end" stroke="#222" stroke-width="0.16" fill="#1a1a1a">NRAS</text><text transform="translate(201.57 249.61) rotate(436)" font-size="3.5" font-style="italic" text-anchor="end" stroke="#222" stroke-width="0.16" fill="#1a1a1a">RUNX1</text><text transform="translate(207.82 248.36) rotate(445)" font-size="3.5" font-style="italic" text-anchor="end" stroke="#222" stroke-width="0.16" fill="#1a1a1a">SF3B1</text><text transform="translate(216.68 248.29) rotate(274)" font-size="3.5" font-style="italic" stroke="#222" stroke-width="0.16" fill="#1a1a1a">SRSF2</text><text transform="translate(222.95 249.42) rotate(283)" font-size="3.5" font-style="italic" stroke="#222" stroke-width="0.16" fill="#1a1a1a">TET2</text><text transform="translate(228.97 251.52) rotate(292)" font-size="3.5" font-style="italic" stroke="#222" stroke-width="0.16" fill="#1a1a1a">TP53</text><text transform="translate(234.58 254.54) rotate(301)" font-size="3.5" font-style="italic" stroke="#222" stroke-width="0.16" fill="#1a1a1a">t(6;9)</text><text transform="translate(239.65 258.4) rotate(310)" font-size="3.5" font-style="italic" stroke="#222" stroke-width="0.16" fill="#1a1a1a">+8</text><text transform="translate(244.06 263.01) rotate(319)" font-size="3.5" font-style="italic" stroke="#222" stroke-width="0.16" fill="#1a1a1a">U2AF1</text><text transform="translate(247.69 268.25) rotate(328)" font-size="3.5" font-style="italic" stroke="#222" stroke-width="0.16" fill="#1a1a1a">WT1</text><text transform="translate(250.46 273.99) rotate(337)" font-size="3.5" font-style="italic" stroke="#222" stroke-width="0.16" fill="#1a1a1a">-X</text><text transform="translate(252.3 280.09) rotate(346)" font-size="3.5" font-style="italic" stroke="#222" stroke-width="0.16" fill="#1a1a1a">-Y</text><text transform="translate(253.15 286.41) rotate(355)" font-size="3.5" font-style="italic" stroke="#222" stroke-width="0.16" fill="#1a1a1a">ZRSR2</text></g>
<text x="265.8" y="198.6" font-size="12.2" font-weight="bold" fill="#000">D</text>
<path d="M294.6 196.73h1.6v4.14h-1.6zM294.6 200.87h0.5v4.14h-0.5zM294.6 205.01h4.1v4.14h-4.1zM294.6 209.15h79.4v4.14h-79.4zM294.6 213.28h9v4.14h-9zM294.6 217.42h1.8v4.14h-1.8zM294.6 221.56h3.3v4.14h-3.3zM294.6 225.7h3.3v4.14h-3.3zM294.6 229.84h8.5v4.14h-8.5zM294.6 233.97h1v4.14h-1zM294.6 238.11h1.5v4.14h-1.5zM294.6 242.25h2.5v4.14h-2.5zM294.6 246.39h0.5v4.14h-0.5zM294.6 250.53h2.5v4.14h-2.5zM294.6 254.66h2v4.14h-2zM294.6 258.8h1v4.14h-1zM294.6 262.94h1v4.14h-1zM294.6 267.08h1v4.14h-1zM294.6 271.21h0.5v4.14h-0.5zM294.6 275.35h0.5v4.14h-0.5zM294.6 279.49h13v4.14h-13zM294.6 283.63h1v4.14h-1zM294.6 291.9h0.5v4.14h-0.5zM294.6 296.04h4.5v4.14h-4.5zM294.6 300.18h7.3v4.14h-7.3zM294.6 304.32h5.9v4.14h-5.9zM294.6 308.46h1v4.14h-1zM294.6 312.59h19.2v4.14h-19.2zM294.6 316.73h6.2v4.14h-6.2zM294.6 320.87h34.9v4.14h-34.9zM294.6 325.01h3.3v4.14h-3.3zM294.6 329.15h1v4.14h-1zM294.6 333.29h12.3v4.14h-12.3zM294.6 337.42h9.3v4.14h-9.3zM294.6 341.56h38v4.14h-38zM294.6 345.7h7.5v4.14h-7.5zM294.6 353.97h77.3v4.14h-77.3zM294.6 358.11h2.1v4.14h-2.1z" fill="#7024ff"/>
<path d="M294.6 194.5V364.5" class="ax"/>
<text x="291" y="200.1" font-size="3.45" font-style="italic" text-anchor="end" stroke="#222" stroke-width="0.17" fill="#1a1a1a">ZRSR2</text>
<text x="291" y="204.24" font-size="3.45" font-style="italic" text-anchor="end" stroke="#222" stroke-width="0.17" fill="#1a1a1a">WT1</text>
<text x="291" y="208.38" font-size="3.45" font-style="italic" text-anchor="end" stroke="#222" stroke-width="0.17" fill="#1a1a1a">U2AF1</text>
<text x="291" y="212.51" font-size="3.45" font-style="italic" text-anchor="end" stroke="#222" stroke-width="0.17" fill="#1a1a1a">TP53</text>
<text x="291" y="216.65" font-size="3.45" font-style="italic" text-anchor="end" stroke="#222" stroke-width="0.17" fill="#1a1a1a">TET2</text>
<text x="291" y="220.79" font-size="3.45" font-style="italic" text-anchor="end" stroke="#222" stroke-width="0.17" fill="#1a1a1a">SRSF2</text>
<text x="291" y="224.93" font-size="3.45" font-style="italic" text-anchor="end" stroke="#222" stroke-width="0.17" fill="#1a1a1a">SF3B1</text>
<text x="291" y="229.07" font-size="3.45" font-style="italic" text-anchor="end" stroke="#222" stroke-width="0.17" fill="#1a1a1a">RUNX1</text>
<text x="291" y="233.2" font-size="3.45" font-style="italic" text-anchor="end" stroke="#222" stroke-width="0.17" fill="#1a1a1a">NRAS</text>
<text x="291" y="237.34" font-size="3.45" font-style="italic" text-anchor="end" stroke="#222" stroke-width="0.17" fill="#1a1a1a">NPM1</text>
<text x="291" y="241.48" font-size="3.45" font-style="italic" text-anchor="end" stroke="#222" stroke-width="0.17" fill="#1a1a1a">KRAS</text>
<text x="291" y="245.62" font-size="3.45" font-style="italic" text-anchor="end" stroke="#222" stroke-width="0.17" fill="#1a1a1a">KIT</text>
<text x="291" y="249.76" font-size="3.45" font-style="italic" text-anchor="end" stroke="#222" stroke-width="0.17" fill="#1a1a1a">IDH2<tspan font-size="2.42" dy="-1.03">R172</tspan></text>
<text x="291" y="253.89" font-size="3.45" font-style="italic" text-anchor="end" stroke="#222" stroke-width="0.17" fill="#1a1a1a">IDH2<tspan font-size="2.42" dy="-1.03">R140</tspan></text>
<text x="291" y="258.03" font-size="3.45" font-style="italic" text-anchor="end" stroke="#222" stroke-width="0.17" fill="#1a1a1a">IDH1</text>
<text x="291" y="262.17" font-size="3.45" font-style="italic" text-anchor="end" stroke="#222" stroke-width="0.17" fill="#1a1a1a">GATA2</text>
<text x="291" y="266.31" font-size="3.45" font-style="italic" text-anchor="end" stroke="#222" stroke-width="0.17" fill="#1a1a1a">FLT3<tspan font-size="2.42" dy="-1.03">TKD</tspan></text>
<text x="291" y="270.45" font-size="3.45" font-style="italic" text-anchor="end" stroke="#222" stroke-width="0.17" fill="#1a1a1a">FLT3<tspan font-size="2.42" dy="-1.03">ITD</tspan></text>
<text x="291" y="274.58" font-size="3.45" font-style="italic" text-anchor="end" stroke="#222" stroke-width="0.17" fill="#1a1a1a">EZH2</text>
<text x="291" y="278.72" font-size="3.45" font-style="italic" text-anchor="end" stroke="#222" stroke-width="0.17" fill="#1a1a1a">ETV6</text>
<text x="291" y="282.86" font-size="3.45" font-style="italic" text-anchor="end" stroke="#222" stroke-width="0.17" fill="#1a1a1a">DNMT3A</text>
<text x="291" y="287" font-size="3.45" font-style="italic" text-anchor="end" stroke="#222" stroke-width="0.17" fill="#1a1a1a">CEBPA<tspan font-size="2.42" dy="-1.03">bi</tspan></text>
<text x="291" y="291.14" font-size="3.45" font-style="italic" text-anchor="end" stroke="#222" stroke-width="0.17" fill="#1a1a1a">CEBPA<tspan font-size="2.42" dy="-1.03">m</tspan></text>
<text x="291" y="295.27" font-size="3.45" font-style="italic" text-anchor="end" stroke="#222" stroke-width="0.17" fill="#1a1a1a">CBL</text>
<text x="291" y="299.41" font-size="3.45" font-style="italic" text-anchor="end" stroke="#222" stroke-width="0.17" fill="#1a1a1a">BCOR/L1</text>
<text x="291" y="303.55" font-size="3.45" font-style="italic" text-anchor="end" stroke="#222" stroke-width="0.17" fill="#1a1a1a">ASXL1</text>
<text x="291" y="307.69" font-size="3.45" font-style="italic" text-anchor="end" stroke="#222" stroke-width="0.17" fill="#1a1a1a">-Y</text>
<text x="291" y="311.83" font-size="3.45" font-style="italic" text-anchor="end" stroke="#222" stroke-width="0.17" fill="#1a1a1a">-X</text>
<text x="291" y="315.96" font-size="3.45" font-style="italic" text-anchor="end" stroke="#222" stroke-width="0.17" fill="#1a1a1a">+8</text>
<text x="291" y="320.1" font-size="3.45" font-style="italic" text-anchor="end" stroke="#222" stroke-width="0.17" fill="#1a1a1a">del(20q)</text>
<text x="291" y="324.24" font-size="3.45" font-style="italic" text-anchor="end" stroke="#222" stroke-width="0.17" fill="#1a1a1a">-17/del(17p)</text>
<text x="291" y="328.38" font-size="3.45" font-style="italic" text-anchor="end" stroke="#222" stroke-width="0.17" fill="#1a1a1a">del(13q)</text>
<text x="291" y="332.52" font-size="3.45" font-style="italic" text-anchor="end" stroke="#222" stroke-width="0.17" fill="#1a1a1a">del(12p)</text>
<text x="291" y="336.65" font-size="3.45" font-style="italic" text-anchor="end" stroke="#222" stroke-width="0.17" fill="#1a1a1a">del(11q)</text>
<text x="291" y="340.79" font-size="3.45" font-style="italic" text-anchor="end" stroke="#222" stroke-width="0.17" fill="#1a1a1a">-9/del(9q)</text>
<text x="291" y="344.93" font-size="3.45" font-style="italic" text-anchor="end" stroke="#222" stroke-width="0.17" fill="#1a1a1a">-7/del(7q)</text>
<text x="291" y="349.07" font-size="3.45" font-style="italic" text-anchor="end" stroke="#222" stroke-width="0.17" fill="#1a1a1a">-6/del(6q)</text>
<text x="291" y="353.21" font-size="3.45" font-style="italic" text-anchor="end" stroke="#222" stroke-width="0.17" fill="#1a1a1a">t(6;9)</text>
<text x="291" y="357.34" font-size="3.45" font-style="italic" text-anchor="end" stroke="#222" stroke-width="0.17" fill="#1a1a1a">-5/del(5q)</text>
<text x="291" y="361.48" font-size="3.45" font-style="italic" text-anchor="end" stroke="#222" stroke-width="0.17" fill="#1a1a1a">inv(3)/t(3;3)</text>
<path d="M292.2 198.8H294.6M292.2 202.94H294.6M292.2 207.08H294.6M292.2 211.21H294.6M292.2 215.35H294.6M292.2 219.49H294.6M292.2 223.63H294.6M292.2 227.77H294.6M292.2 231.9H294.6M292.2 236.04H294.6M292.2 240.18H294.6M292.2 244.32H294.6M292.2 248.46H294.6M292.2 252.59H294.6M292.2 256.73H294.6M292.2 260.87H294.6M292.2 265.01H294.6M292.2 269.15H294.6M292.2 273.28H294.6M292.2 277.42H294.6M292.2 281.56H294.6M292.2 285.7H294.6M292.2 289.84H294.6M292.2 293.97H294.6M292.2 298.11H294.6M292.2 302.25H294.6M292.2 306.39H294.6M292.2 310.53H294.6M292.2 314.66H294.6M292.2 318.8H294.6M292.2 322.94H294.6M292.2 327.08H294.6M292.2 331.22H294.6M292.2 335.35H294.6M292.2 339.49H294.6M292.2 343.63H294.6M292.2 347.77H294.6M292.2 351.91H294.6M292.2 356.04H294.6M292.2 360.18H294.6" class="tk"/>
<path d="M294.6 364.5H373.8" class="ax"/>
<text x="294.6" y="371.6" font-size="3.6" text-anchor="middle" stroke="#222" stroke-width="0.1" fill="#1a1a1a">0</text>
<text x="305.91" y="371.6" font-size="3.6" text-anchor="middle" stroke="#222" stroke-width="0.1" fill="#1a1a1a">10</text>
<text x="317.23" y="371.6" font-size="3.6" text-anchor="middle" stroke="#222" stroke-width="0.1" fill="#1a1a1a">20</text>
<text x="328.54" y="371.6" font-size="3.6" text-anchor="middle" stroke="#222" stroke-width="0.1" fill="#1a1a1a">30</text>
<text x="339.86" y="371.6" font-size="3.6" text-anchor="middle" stroke="#222" stroke-width="0.1" fill="#1a1a1a">40</text>
<text x="351.17" y="371.6" font-size="3.6" text-anchor="middle" stroke="#222" stroke-width="0.1" fill="#1a1a1a">50</text>
<text x="362.49" y="371.6" font-size="3.6" text-anchor="middle" stroke="#222" stroke-width="0.1" fill="#1a1a1a">60</text>
<text x="373.8" y="371.6" font-size="3.6" text-anchor="middle" stroke="#222" stroke-width="0.1" fill="#1a1a1a">70</text>
<path d="M294.6 364.5V366.7M305.91 364.5V366.7M317.23 364.5V366.7M328.54 364.5V366.7M339.86 364.5V366.7M351.17 364.5V366.7M362.49 364.5V366.7M373.8 364.5V366.7" class="tk"/>
<text x="334.2" y="377.4" font-size="4.05" text-anchor="middle" stroke="#222" stroke-width="0.16" fill="#1a1a1a">Frequency [%]</text>
<path d="M379.2 364.5H458.5" class="ax"/>
<text x="379.2" y="371.6" font-size="3.6" text-anchor="middle" stroke="#222" stroke-width="0.1" fill="#1a1a1a">0</text>
<text x="399.02" y="371.6" font-size="3.6" text-anchor="middle" stroke="#222" stroke-width="0.1" fill="#1a1a1a">10</text>
<text x="418.85" y="371.6" font-size="3.6" text-anchor="middle" stroke="#222" stroke-width="0.1" fill="#1a1a1a">20</text>
<text x="438.68" y="371.6" font-size="3.6" text-anchor="middle" stroke="#222" stroke-width="0.1" fill="#1a1a1a">30</text>
<text x="458.5" y="371.6" font-size="3.6" text-anchor="middle" stroke="#222" stroke-width="0.1" fill="#1a1a1a">40</text>
<path d="M379.2 364.5V366.7M399.02 364.5V366.7M418.85 364.5V366.7M438.68 364.5V366.7M458.5 364.5V366.7" class="tk"/>
<text x="418.85" y="377.4" font-size="4.05" text-anchor="middle" stroke="#222" stroke-width="0.16" fill="#1a1a1a">Mean Decrease in Accuracy [%]</text>
<g fill="#333"><circle cx="379.7" cy="198.8" r="0.8"/><circle cx="380.6" cy="202.94" r="0.8"/><circle cx="380" cy="207.08" r="0.8"/><circle cx="380.6" cy="215.35" r="0.8"/><circle cx="379.7" cy="223.63" r="0.8"/><circle cx="380" cy="231.9" r="0.8"/><circle cx="380.6" cy="240.18" r="0.8"/><circle cx="380" cy="244.32" r="0.8"/><circle cx="379.7" cy="248.46" r="0.8"/><circle cx="380.6" cy="252.59" r="0.8"/><circle cx="380" cy="256.73" r="0.8"/><circle cx="379.7" cy="260.87" r="0.8"/><circle cx="380.6" cy="265.01" r="0.8"/><circle cx="379.7" cy="273.28" r="0.8"/><circle cx="380.6" cy="277.42" r="0.8"/><circle cx="380" cy="281.56" r="0.8"/><circle cx="379.7" cy="285.7" r="0.8"/><circle cx="380.6" cy="289.84" r="0.8"/><circle cx="380" cy="293.97" r="0.8"/><circle cx="380.6" cy="302.25" r="0.8"/><circle cx="380" cy="306.39" r="0.8"/><circle cx="379.7" cy="310.53" r="0.8"/><circle cx="380.6" cy="314.66" r="0.8"/><circle cx="380" cy="318.8" r="0.8"/><circle cx="380.6" cy="327.08" r="0.8"/><circle cx="380" cy="331.22" r="0.8"/><circle cx="379.7" cy="335.35" r="0.8"/><circle cx="380.6" cy="339.49" r="0.8"/><circle cx="380" cy="343.63" r="0.8"/><circle cx="379.7" cy="347.77" r="0.8"/><circle cx="380.6" cy="351.91" r="0.8"/><circle cx="379.7" cy="360.18" r="0.8"/></g>
<g fill="#e8202a"><circle cx="449.2" cy="211.21" r="0.8"/><circle cx="386.8" cy="219.49" r="0.8"/><circle cx="387.2" cy="227.77" r="0.8"/><circle cx="406" cy="236.04" r="0.8"/><circle cx="388.4" cy="269.15" r="0.8"/><circle cx="388.9" cy="298.11" r="0.8"/><circle cx="392.6" cy="322.94" r="0.8"/><circle cx="446.9" cy="356.04" r="0.8"/></g>
<g><path d="M455.61 258.64A35.1 35.1 0 0 1 458.85 259.95Q444.1 291.8 443.4 326.89A35.1 35.1 0 0 1 439.91 326.65Q444.1 291.8 455.61 258.64Z" fill="#8030ff" fill-opacity="0.95"/><path d="M455.87 258.73A35.1 35.1 0 0 1 458.6 259.84Q444.1 291.8 432.33 324.87A35.1 35.1 0 0 1 429.6 323.76Q444.1 291.8 455.87 258.73Z" fill="#8030ff" fill-opacity="0.8"/><path d="M456.48 258.96A35.1 35.1 0 0 1 459.02 260.03Q444.1 291.8 453.92 325.5A35.1 35.1 0 0 1 451.25 326.16Q444.1 291.8 456.48 258.96Z" fill="#8030ff" fill-opacity="0.75"/><path d="M443.85 326.9A35.1 35.1 0 0 1 439.46 326.59Q444.1 291.8 464.93 263.55A35.1 35.1 0 0 1 468.31 266.38Q444.1 291.8 443.85 326.9Z" fill="#8030ff" fill-opacity="0.55"/><path d="M443.79 326.9A35.1 35.1 0 0 1 439.4 326.58Q444.1 291.8 433.02 325.11A35.1 35.1 0 0 1 428.93 323.45Q444.1 291.8 443.79 326.9Z" fill="#8030ff" fill-opacity="0.6"/><path d="M443.92 326.9A35.1 35.1 0 0 1 439.52 326.6Q444.1 291.8 454.71 325.26A35.1 35.1 0 0 1 450.44 326.32Q444.1 291.8 443.92 326.9Z" fill="#8030ff" fill-opacity="0.5"/><path d="M428.38 260.42A35.1 35.1 0 0 1 432.44 258.69Q444.1 291.8 443.85 326.9A35.1 35.1 0 0 1 439.46 326.59Q444.1 291.8 428.38 260.42Z" fill="#8030ff" fill-opacity="0.45"/><path d="M455.12 258.48A35.1 35.1 0 0 1 459.21 260.12Q444.1 291.8 464.93 263.55A35.1 35.1 0 0 1 468.31 266.38Q444.1 291.8 455.12 258.48Z" fill="#8030ff" fill-opacity="0.3"/><path d="M455.18 258.49A35.1 35.1 0 0 1 459.27 260.15Q444.1 291.8 464.53 320.34A35.1 35.1 0 0 1 460.79 322.68Q444.1 291.8 455.18 258.49Z" fill="#8030ff" fill-opacity="0.3"/><path d="M455.24 258.51A35.1 35.1 0 0 1 459.32 260.17Q444.1 291.8 427.95 322.96A35.1 35.1 0 0 1 424.17 320.69Q444.1 291.8 455.24 258.51Z" fill="#8030ff" fill-opacity="0.35"/><path d="M432.96 325.09A35.1 35.1 0 0 1 428.88 323.43Q444.1 291.8 454.65 325.28A35.1 35.1 0 0 1 450.38 326.33Q444.1 291.8 432.96 325.09Z" fill="#8030ff" fill-opacity="0.3"/><path d="M423.27 320.05A35.1 35.1 0 0 1 419.89 317.22Q444.1 291.8 455.12 258.48A35.1 35.1 0 0 1 459.21 260.12Q444.1 291.8 423.27 320.05Z" fill="#8030ff" fill-opacity="0.3"/><path d="M449.83 257.17A35.1 35.1 0 0 1 454.13 258.16Q444.1 291.8 443.79 326.9A35.1 35.1 0 0 1 439.4 326.58Q444.1 291.8 449.83 257.17Z" fill="#8030ff" fill-opacity="0.25"/><path d="M427.95 322.96A35.1 35.1 0 0 1 424.17 320.69Q444.1 291.8 443.92 326.9A35.1 35.1 0 0 1 439.52 326.6Q444.1 291.8 427.95 322.96Z" fill="#8030ff" fill-opacity="0.25"/><path d="M449.35 326.51A35.1 35.1 0 0 1 444.96 326.89Q444.1 291.8 443.85 326.9A35.1 35.1 0 0 1 439.46 326.59Q444.1 291.8 449.35 326.51Z" fill="#8030ff" fill-opacity="0.2"/><path d="M419.11 316.45A35.1 35.1 0 0 1 416.22 313.12Q444.1 291.8 455.18 258.49A35.1 35.1 0 0 1 459.27 260.15Q444.1 291.8 419.11 316.45Z" fill="#8030ff" fill-opacity="0.15"/><path d="M409 291.55A35.1 35.1 0 0 1 409.31 287.16Q444.1 291.8 443.79 326.9A35.1 35.1 0 0 1 439.4 326.58Q444.1 291.8 409 291.55Z" fill="#8030ff" fill-opacity="0.12"/><path d="M412.72 307.52A35.1 35.1 0 0 1 410.99 303.46Q444.1 291.8 455.24 258.51A35.1 35.1 0 0 1 459.32 260.17Q444.1 291.8 412.72 307.52Z" fill="#8030ff" fill-opacity="0.12"/><path d="M419.45 266.81A35.1 35.1 0 0 1 422.78 263.92Q444.1 291.8 433.08 325.12A35.1 35.1 0 0 1 428.99 323.48Q444.1 291.8 419.45 266.81Z" fill="#8030ff" fill-opacity="0.15"/><path d="M469.09 267.15A35.1 35.1 0 0 1 471.98 270.48Q444.1 291.8 443.92 326.9A35.1 35.1 0 0 1 439.52 326.6Q444.1 291.8 469.09 267.15Z" fill="#8030ff" fill-opacity="0.15"/><path d="M472.64 271.37A35.1 35.1 0 0 1 474.98 275.11Q444.1 291.8 433.02 325.11A35.1 35.1 0 0 1 428.93 323.45Q444.1 291.8 472.64 271.37Z" fill="#8030ff" fill-opacity="0.12"/><path d="M475.48 276.08A35.1 35.1 0 0 1 477.21 280.14Q444.1 291.8 455.12 258.48A35.1 35.1 0 0 1 459.21 260.12Q444.1 291.8 475.48 276.08Z" fill="#8030ff" fill-opacity="0.12"/><path d="M477.56 281.19A35.1 35.1 0 0 1 478.62 285.46Q444.1 291.8 443.85 326.9A35.1 35.1 0 0 1 439.46 326.59Q444.1 291.8 477.56 281.19Z" fill="#8030ff" fill-opacity="0.12"/><path d="M478.81 286.55A35.1 35.1 0 0 1 479.19 290.94Q444.1 291.8 454.77 325.24A35.1 35.1 0 0 1 450.5 326.31Q444.1 291.8 478.81 286.55Z" fill="#8030ff" fill-opacity="0.1"/><path d="M479.2 292.05A35.1 35.1 0 0 1 478.89 296.44Q444.1 291.8 432.96 325.09A35.1 35.1 0 0 1 428.88 323.43Q444.1 291.8 479.2 292.05Z" fill="#8030ff" fill-opacity="0.15"/><path d="M478.73 297.53A35.1 35.1 0 0 1 477.74 301.83Q444.1 291.8 455.18 258.49A35.1 35.1 0 0 1 459.27 260.15Q444.1 291.8 478.73 297.53Z" fill="#8030ff" fill-opacity="0.1"/><path d="M477.41 302.88A35.1 35.1 0 0 1 475.75 306.97Q444.1 291.8 443.79 326.9A35.1 35.1 0 0 1 439.4 326.58Q444.1 291.8 477.41 302.88Z" fill="#8030ff" fill-opacity="0.1"/><path d="M472.35 312.63A35.1 35.1 0 0 1 469.52 316.01Q444.1 291.8 433.08 325.12A35.1 35.1 0 0 1 428.99 323.48Q444.1 291.8 472.35 312.63Z" fill="#8030ff" fill-opacity="0.1"/><path d="M409.39 297.05A35.1 35.1 0 0 1 409.01 292.66Q444.1 291.8 455.24 258.51A35.1 35.1 0 0 1 459.32 260.17Q444.1 291.8 409.39 297.05Z" fill="#8030ff" fill-opacity="0.12"/><path d="M409.47 286.07A35.1 35.1 0 0 1 410.46 281.77Q444.1 291.8 443.92 326.9A35.1 35.1 0 0 1 439.52 326.6Q444.1 291.8 409.47 286.07Z" fill="#8030ff" fill-opacity="0.12"/><path d="M410.79 280.72A35.1 35.1 0 0 1 412.45 276.63Q444.1 291.8 455.12 258.48A35.1 35.1 0 0 1 459.21 260.12Q444.1 291.8 410.79 280.72Z" fill="#8030ff" fill-opacity="0.12"/><path d="M412.94 275.65A35.1 35.1 0 0 1 415.21 271.87Q444.1 291.8 433.02 325.11A35.1 35.1 0 0 1 428.93 323.45Q444.1 291.8 412.94 275.65Z" fill="#8030ff" fill-opacity="0.15"/><path d="M415.85 270.97A35.1 35.1 0 0 1 418.68 267.59Q444.1 291.8 443.85 326.9A35.1 35.1 0 0 1 439.46 326.59Q444.1 291.8 415.85 270.97Z" fill="#8030ff" fill-opacity="0.12"/><path d="M438.85 257.09A35.1 35.1 0 0 1 443.24 256.71Q444.1 291.8 443.79 326.9A35.1 35.1 0 0 1 439.4 326.58Q444.1 291.8 438.85 257.09Z" fill="#8030ff" fill-opacity="0.15"/><path d="M444.35 256.7A35.1 35.1 0 0 1 448.74 257.01Q444.1 291.8 455.18 258.49A35.1 35.1 0 0 1 459.27 260.15Q444.1 291.8 444.35 256.7Z" fill="#8030ff" fill-opacity="0.12"/><path d="M433.49 258.34A35.1 35.1 0 0 1 437.76 257.28Q444.1 291.8 432.96 325.09A35.1 35.1 0 0 1 428.88 323.43Q444.1 291.8 433.49 258.34Z" fill="#8030ff" fill-opacity="0.15"/><path d="M415.56 312.23A35.1 35.1 0 0 1 413.22 308.49Q444.1 291.8 433.08 325.12A35.1 35.1 0 0 1 428.99 323.48Q444.1 291.8 415.56 312.23Z" fill="#8030ff" fill-opacity="0.12"/><path d="M410.64 302.41A35.1 35.1 0 0 1 409.58 298.14Q444.1 291.8 455.24 258.51A35.1 35.1 0 0 1 459.32 260.17Q444.1 291.8 410.64 302.41Z" fill="#8030ff" fill-opacity="0.1"/><path d="M459.82 323.18A35.1 35.1 0 0 1 455.76 324.91Q444.1 291.8 455.12 258.48A35.1 35.1 0 0 1 459.21 260.12Q444.1 291.8 459.82 323.18Z" fill="#8030ff" fill-opacity="0.12"/><path d="M468.75 316.79A35.1 35.1 0 0 1 465.42 319.68Q444.1 291.8 443.92 326.9A35.1 35.1 0 0 1 439.52 326.6Q444.1 291.8 468.75 316.79Z" fill="#8030ff" fill-opacity="0.1"/><path d="M438.37 326.43A35.1 35.1 0 0 1 434.07 325.44Q444.1 291.8 455.18 258.49A35.1 35.1 0 0 1 459.27 260.15Q444.1 291.8 438.37 326.43Z" fill="#8030ff" fill-opacity="0.2"/><path d="M460.25 260.64A35.1 35.1 0 0 1 464.03 262.91Q444.1 291.8 443.85 326.9A35.1 35.1 0 0 1 439.46 326.59Q444.1 291.8 460.25 260.64Z" fill="#8030ff" fill-opacity="0.12"/><path d="M423.67 263.26A35.1 35.1 0 0 1 427.41 260.92Q444.1 291.8 443.79 326.9A35.1 35.1 0 0 1 439.4 326.58Q444.1 291.8 423.67 263.26Z" fill="#8030ff" fill-opacity="0.12"/><path d="M475.26 307.95A35.1 35.1 0 0 1 472.99 311.73Q444.1 291.8 455.24 258.51A35.1 35.1 0 0 1 459.32 260.17Q444.1 291.8 475.26 307.95Z" fill="#8030ff" fill-opacity="0.1"/></g>
<circle cx="444.1" cy="291.8" r="36.95" fill="none" stroke="#6a58a0" stroke-width="3.1"/>
<path d="M481.05 292.25A36.95 36.95 0 0 1 480.75 296.5M480.52 298.03A36.95 36.95 0 0 1 479.56 302.17M479.1 303.65A36.95 36.95 0 0 1 477.51 307.59M476.82 308.98A36.95 36.95 0 0 1 474.62 312.62M473.73 313.88A36.95 36.95 0 0 1 470.99 317.14M469.91 318.24A36.95 36.95 0 0 1 466.7 321.04M465.45 321.96A36.95 36.95 0 0 1 461.84 324.21M460.47 324.93A36.95 36.95 0 0 1 456.56 326.59M455.09 327.08A36.95 36.95 0 0 1 450.96 328.11M449.43 328.36A36.95 36.95 0 0 1 445.2 328.73M443.65 328.75A36.95 36.95 0 0 1 439.4 328.45M437.87 328.22A36.95 36.95 0 0 1 433.73 327.26M432.25 326.8A36.95 36.95 0 0 1 428.31 325.21M426.92 324.52A36.95 36.95 0 0 1 423.28 322.32M422.02 321.43A36.95 36.95 0 0 1 418.76 318.69M417.66 317.61A36.95 36.95 0 0 1 414.86 314.4M413.94 313.15A36.95 36.95 0 0 1 411.69 309.54M410.97 308.17A36.95 36.95 0 0 1 409.31 304.26M408.82 302.79A36.95 36.95 0 0 1 407.79 298.66M407.54 297.13A36.95 36.95 0 0 1 407.17 292.9M407.15 291.35A36.95 36.95 0 0 1 407.45 287.1M407.68 285.57A36.95 36.95 0 0 1 408.64 281.43M409.1 279.95A36.95 36.95 0 0 1 410.69 276.01M411.38 274.62A36.95 36.95 0 0 1 413.58 270.98M414.47 269.72A36.95 36.95 0 0 1 417.21 266.46M418.29 265.36A36.95 36.95 0 0 1 421.5 262.56M422.75 261.64A36.95 36.95 0 0 1 426.36 259.39M427.73 258.67A36.95 36.95 0 0 1 431.64 257.01M433.11 256.52A36.95 36.95 0 0 1 437.24 255.49M438.77 255.24A36.95 36.95 0 0 1 443 254.87M444.55 254.85A36.95 36.95 0 0 1 448.8 255.15M450.33 255.38A36.95 36.95 0 0 1 454.47 256.34M455.95 256.8A36.95 36.95 0 0 1 459.89 258.39M461.28 259.08A36.95 36.95 0 0 1 464.92 261.28M466.18 262.17A36.95 36.95 0 0 1 469.44 264.91M470.54 265.99A36.95 36.95 0 0 1 473.34 269.2M474.26 270.45A36.95 36.95 0 0 1 476.51 274.06M477.23 275.43A36.95 36.95 0 0 1 478.89 279.34M479.38 280.81A36.95 36.95 0 0 1 480.41 284.94M480.66 286.47A36.95 36.95 0 0 1 481.03 290.7" fill="none" stroke="#7024ff" stroke-width="2.17"/>
<g><text transform="translate(484.51 295.88) rotate(4)" font-size="3.5" font-style="italic" stroke="#222" stroke-width="0.16" fill="#1a1a1a">ASXL1</text><text transform="translate(483.38 302.15) rotate(13)" font-size="3.5" font-style="italic" stroke="#222" stroke-width="0.16" fill="#1a1a1a">BCOR/L1</text><text transform="translate(481.28 308.17) rotate(22)" font-size="3.5" font-style="italic" stroke="#222" stroke-width="0.16" fill="#1a1a1a">CBL</text><text transform="translate(478.26 313.78) rotate(31)" font-size="3.5" font-style="italic" stroke="#222" stroke-width="0.16" fill="#1a1a1a">CEBPA<tspan font-size="2.45" dy="-1.05">bi</tspan></text><text transform="translate(474.4 318.85) rotate(40)" font-size="3.5" font-style="italic" stroke="#222" stroke-width="0.16" fill="#1a1a1a">CEBPA<tspan font-size="2.45" dy="-1.05">m</tspan></text><text transform="translate(469.79 323.26) rotate(49)" font-size="3.5" font-style="italic" stroke="#222" stroke-width="0.16" fill="#1a1a1a">del(11q)</text><text transform="translate(464.55 326.89) rotate(58)" font-size="3.5" font-style="italic" stroke="#222" stroke-width="0.16" fill="#1a1a1a">del(12p)</text><text transform="translate(458.81 329.66) rotate(67)" font-size="3.5" font-style="italic" stroke="#222" stroke-width="0.16" fill="#1a1a1a">del(13q)</text><text transform="translate(452.71 331.5) rotate(76)" font-size="3.5" font-style="italic" stroke="#222" stroke-width="0.16" fill="#1a1a1a">-17/del(17p)</text><text transform="translate(446.39 332.35) rotate(85)" font-size="3.5" font-style="italic" stroke="#222" stroke-width="0.16" fill="#1a1a1a">del(20q)</text><text transform="translate(442.51 332.39) rotate(274)" font-size="3.5" font-style="italic" text-anchor="end" stroke="#222" stroke-width="0.16" fill="#1a1a1a">-5/del(5q)</text><text transform="translate(436.18 331.64) rotate(283)" font-size="3.5" font-style="italic" text-anchor="end" stroke="#222" stroke-width="0.16" fill="#1a1a1a">-6/del(6q)</text><text transform="translate(430.05 329.91) rotate(292)" font-size="3.5" font-style="italic" text-anchor="end" stroke="#222" stroke-width="0.16" fill="#1a1a1a">-7/del(7q)</text><text transform="translate(424.26 327.24) rotate(301)" font-size="3.5" font-style="italic" text-anchor="end" stroke="#222" stroke-width="0.16" fill="#1a1a1a">-9/del(9q)</text><text transform="translate(418.96 323.7) rotate(310)" font-size="3.5" font-style="italic" text-anchor="end" stroke="#222" stroke-width="0.16" fill="#1a1a1a">DNMT3A</text><text transform="translate(414.28 319.38) rotate(319)" font-size="3.5" font-style="italic" text-anchor="end" stroke="#222" stroke-width="0.16" fill="#1a1a1a">ETV6</text><text transform="translate(410.33 314.37) rotate(328)" font-size="3.5" font-style="italic" text-anchor="end" stroke="#222" stroke-width="0.16" fill="#1a1a1a">EZH2</text><text transform="translate(407.22 308.81) rotate(337)" font-size="3.5" font-style="italic" text-anchor="end" stroke="#222" stroke-width="0.16" fill="#1a1a1a">FLT3<tspan font-size="2.45" dy="-1.05">ITD</tspan></text><text transform="translate(405.01 302.83) rotate(346)" font-size="3.5" font-style="italic" text-anchor="end" stroke="#222" stroke-width="0.16" fill="#1a1a1a">FLT3<tspan font-size="2.45" dy="-1.05">TKD</tspan></text><text transform="translate(403.76 296.58) rotate(355)" font-size="3.5" font-style="italic" text-anchor="end" stroke="#222" stroke-width="0.16" fill="#1a1a1a">GATA2</text><text transform="translate(403.51 290.21) rotate(364)" font-size="3.5" font-style="italic" text-anchor="end" stroke="#222" stroke-width="0.16" fill="#1a1a1a">IDH1</text><text transform="translate(404.26 283.88) rotate(373)" font-size="3.5" font-style="italic" text-anchor="end" stroke="#222" stroke-width="0.16" fill="#1a1a1a">IDH2<tspan font-size="2.45" dy="-1.05">R140</tspan></text><text transform="translate(405.99 277.75) rotate(382)" font-size="3.5" font-style="italic" text-anchor="end" stroke="#222" stroke-width="0.16" fill="#1a1a1a">IDH2<tspan font-size="2.45" dy="-1.05">R172</tspan></text><text transform="translate(408.66 271.96) rotate(391)" font-size="3.5" font-style="italic" text-anchor="end" stroke="#222" stroke-width="0.16" fill="#1a1a1a">inv(3)/t(3;3)</text><text transform="translate(412.2 266.66) rotate(400)" font-size="3.5" font-style="italic" text-anchor="end" stroke="#222" stroke-width="0.16" fill="#1a1a1a">KIT</text><text transform="translate(416.52 261.98) rotate(409)" font-size="3.5" font-style="italic" text-anchor="end" stroke="#222" stroke-width="0.16" fill="#1a1a1a">KRAS</text><text transform="translate(421.53 258.03) rotate(418)" font-size="3.5" font-style="italic" text-anchor="end" stroke="#222" stroke-width="0.16" fill="#1a1a1a">NPM1</text><text transform="translate(427.09 254.92) rotate(427)" font-size="3.5" font-style="italic" text-anchor="end" stroke="#222" stroke-width="0.16" fill="#1a1a1a">NRAS</text><text transform="translate(433.07 252.71) rotate(436)" font-size="3.5" font-style="italic" text-anchor="end" stroke="#222" stroke-width="0.16" fill="#1a1a1a">RUNX1</text><text transform="translate(439.32 251.46) rotate(445)" font-size="3.5" font-style="italic" text-anchor="end" stroke="#222" stroke-width="0.16" fill="#1a1a1a">SF3B1</text><text transform="translate(448.18 251.39) rotate(274)" font-size="3.5" font-style="italic" stroke="#222" stroke-width="0.16" fill="#1a1a1a">SRSF2</text><text transform="translate(454.45 252.52) rotate(283)" font-size="3.5" font-style="italic" stroke="#222" stroke-width="0.16" fill="#1a1a1a">TET2</text><text transform="translate(460.47 254.62) rotate(292)" font-size="3.5" font-style="italic" stroke="#222" stroke-width="0.16" fill="#1a1a1a">TP53</text><text transform="translate(466.08 257.64) rotate(301)" font-size="3.5" font-style="italic" stroke="#222" stroke-width="0.16" fill="#1a1a1a">t(6;9)</text><text transform="translate(471.15 261.5) rotate(310)" font-size="3.5" font-style="italic" stroke="#222" stroke-width="0.16" fill="#1a1a1a">+8</text><text transform="translate(475.56 266.11) rotate(319)" font-size="3.5" font-style="italic" stroke="#222" stroke-width="0.16" fill="#1a1a1a">U2AF1</text><text transform="translate(479.19 271.35) rotate(328)" font-size="3.5" font-style="italic" stroke="#222" stroke-width="0.16" fill="#1a1a1a">WT1</text><text transform="translate(481.96 277.09) rotate(337)" font-size="3.5" font-style="italic" stroke="#222" stroke-width="0.16" fill="#1a1a1a">-X</text><text transform="translate(483.8 283.19) rotate(346)" font-size="3.5" font-style="italic" stroke="#222" stroke-width="0.16" fill="#1a1a1a">-Y</text><text transform="translate(484.65 289.51) rotate(355)" font-size="3.5" font-style="italic" stroke="#222" stroke-width="0.16" fill="#1a1a1a">ZRSR2</text></g>
<rect x="0.5" y="0.5" width="519" height="383" fill="none" stroke="#000" stroke-width="1"/>
</svg>
</body></html>
